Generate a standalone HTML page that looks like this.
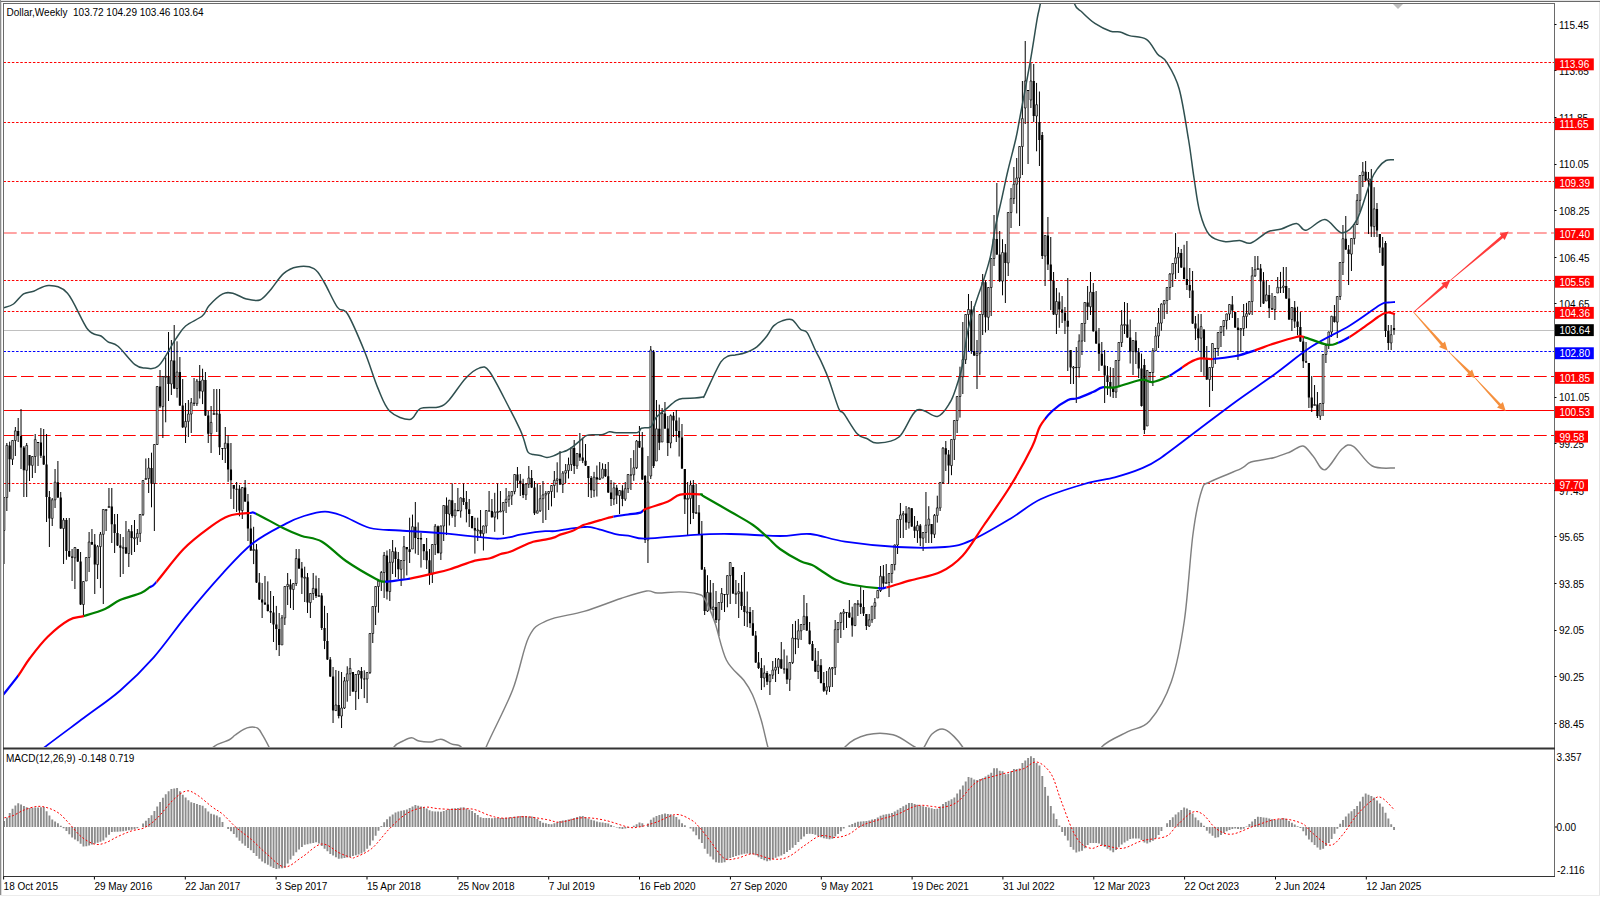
<!DOCTYPE html><html><head><meta charset="utf-8"><style>html,body{margin:0;padding:0;background:#fff;}body{width:1600px;height:897px;overflow:hidden;position:relative;font-family:"Liberation Sans",sans-serif;}svg{position:absolute;left:0;top:0;}text{font-family:"Liberation Sans",sans-serif;font-size:10px;}</style></head><body>
<svg width="1600" height="897" viewBox="0 0 1600 897">
<defs><clipPath id="cm"><rect x="4" y="4" width="1550" height="743"/></clipPath><clipPath id="cd"><rect x="4" y="750" width="1550" height="125"/></clipPath></defs>
<rect x="0" y="0" width="1600" height="897" fill="#fff"/>
<rect x="0" y="0" width="1600" height="1" fill="#e3e3e3"/>
<rect x="1" y="1" width="1599" height="1" fill="#6a6a6a"/>
<rect x="0" y="0" width="1" height="896" fill="#8c8c8c"/>
<rect x="1" y="2" width="1" height="894" fill="#dcdcdc"/>
<rect x="1599" y="2" width="1" height="894" fill="#e6e6e6"/>
<rect x="0" y="895" width="1600" height="1" fill="#ececec"/>
<rect x="3" y="3" width="1552" height="1" fill="#6a6a6a"/>
<rect x="3" y="3" width="1" height="874" fill="#6a6a6a"/>
<rect x="1554" y="3" width="1" height="874" fill="#6a6a6a"/>
<rect x="3" y="876" width="1552" height="1" fill="#333"/>
<rect x="3" y="747.5" width="1552" height="2" fill="#333"/>
<polygon points="1393,4 1403,4 1398,9" fill="#bdbdbd"/>
<line x1="3.45" y1="62.5" x2="1554" y2="62.5" stroke="#ff0000" stroke-width="1" stroke-dasharray="2.5,1.71" stroke-opacity="1" clip-path="url(#cm)"/>
<line x1="3.45" y1="122.5" x2="1554" y2="122.5" stroke="#ff0000" stroke-width="1" stroke-dasharray="2.5,1.71" stroke-opacity="1" clip-path="url(#cm)"/>
<line x1="3.45" y1="181.5" x2="1554" y2="181.5" stroke="#ff0000" stroke-width="1" stroke-dasharray="2.5,1.71" stroke-opacity="1" clip-path="url(#cm)"/>
<line x1="4" y1="233.0" x2="1554" y2="233.0" stroke="#ffa3a3" stroke-width="2" stroke-dasharray="12.7,4.3" stroke-opacity="1" clip-path="url(#cm)"/>
<line x1="3.45" y1="280.5" x2="1554" y2="280.5" stroke="#ff0000" stroke-width="1" stroke-dasharray="2.5,1.71" stroke-opacity="1" clip-path="url(#cm)"/>
<line x1="3.45" y1="311.5" x2="1554" y2="311.5" stroke="#ff0000" stroke-width="1" stroke-dasharray="2.5,1.71" stroke-opacity="1" clip-path="url(#cm)"/>
<line x1="4" y1="330.5" x2="1554" y2="330.5" stroke="#c0c0c0" stroke-width="1" stroke-opacity="1" clip-path="url(#cm)"/>
<line x1="3.45" y1="351.5" x2="1554" y2="351.5" stroke="#0000ff" stroke-width="1" stroke-dasharray="2.5,1.71" stroke-opacity="1" clip-path="url(#cm)"/>
<line x1="4" y1="376.5" x2="1554" y2="376.5" stroke="#ff0000" stroke-width="1" stroke-dasharray="12.7,4.3" stroke-opacity="1" clip-path="url(#cm)"/>
<line x1="4" y1="410.5" x2="1554" y2="410.5" stroke="#ff0000" stroke-width="1" stroke-opacity="1" clip-path="url(#cm)"/>
<line x1="4" y1="435.5" x2="1554" y2="435.5" stroke="#ff0000" stroke-width="1" stroke-dasharray="12.7,4.3" stroke-opacity="1" clip-path="url(#cm)"/>
<line x1="3.45" y1="483.5" x2="1554" y2="483.5" stroke="#ff0000" stroke-width="1" stroke-dasharray="2.5,1.71" stroke-opacity="1" clip-path="url(#cm)"/>
<g clip-path="url(#cm)">
<path d="M4.00 497.0V564.0M6.84 443.0V511.0M9.67 441.7V491.8M12.51 440.0V465.0M15.35 427.0V456.0M18.18 418.0V442.0M21.02 409.0V469.0M23.86 446.0V497.0M26.69 443.0V497.0M29.53 455.0V481.0M32.37 456.0V478.0M35.20 434.0V473.0M38.04 442.0V466.0M40.88 428.0V458.0M43.71 429.0V465.0M46.55 434.0V522.0M49.39 491.0V547.0M52.22 498.0V526.0M55.06 469.0V508.0M57.90 461.0V498.0M60.73 492.0V529.0M63.57 518.0V564.0M66.41 518.0V559.8M69.24 518.0V557.0M72.08 549.0V581.0M74.92 547.0V589.0M77.76 549.0V562.0M80.59 552.0V605.0M83.43 581.0V616.0M86.27 557.0V581.0M89.10 532.0V572.0M91.94 529.0V545.0M94.78 534.0V594.0M97.61 545.0V579.0M100.45 532.0V588.1M103.29 509.0V604.0M106.12 509.0V531.0M108.96 488.0V507.0M111.80 488.0V543.0M114.63 514.0V553.0M117.47 514.0V546.0M120.31 534.0V577.0M123.14 537.0V574.0M125.98 521.0V554.0M128.82 529.0V567.0M131.65 525.0V555.0M134.49 520.0V552.0M137.33 529.0V545.0M140.16 514.0V542.0M143.00 480.0V516.0M145.84 458.5V479.0M148.67 458.0V493.0M151.51 452.7V507.3M154.35 444.0V531.0M157.18 386.0V445.0M160.02 370.0V408.0M162.86 376.0V438.0M165.69 357.4V422.3M168.53 332.0V401.0M171.37 340.0V395.0M174.20 325.0V389.0M177.04 341.3V397.7M179.88 357.0V406.0M182.71 379.0V428.0M185.55 403.0V443.0M188.39 400.0V437.0M191.22 398.0V433.0M194.06 378.0V406.0M196.90 379.0V406.0M199.73 365.0V398.5M202.57 368.7V404.1M205.41 372.0V416.0M208.24 411.0V443.0M211.08 406.0V453.0M213.92 389.0V414.0M216.76 389.0V432.0M219.59 389.0V455.0M222.43 448.0V460.0M225.27 427.0V463.0M228.10 435.4V481.9M230.94 443.0V499.0M233.78 485.0V509.0M236.61 482.0V512.0M239.45 485.1V516.3M242.29 487.0V519.0M245.12 480.0V502.0M247.96 494.0V541.0M250.80 515.0V551.0M253.63 526.8V564.1M256.47 544.0V583.0M259.31 573.0V600.0M262.14 583.0V618.0M264.98 576.0V605.0M267.82 581.4V611.5M270.65 591.0V623.0M273.49 596.0V642.0M276.33 605.9V650.1M279.16 613.0V656.0M282.00 615.0V645.0M284.84 586.0V625.0M287.67 573.0V605.0M290.51 579.3V608.1M293.35 583.0V610.0M296.18 549.0V586.0M299.02 549.0V569.0M301.86 562.0V594.0M304.69 566.7V602.0M307.53 573.0V613.0M310.37 593.0V618.0M313.20 573.0V600.0M316.04 575.6V598.0M318.88 578.0V596.0M321.71 593.0V630.0M324.55 605.8V649.1M327.39 613.0V660.0M330.22 657.0V677.0M333.06 667.0V723.0M335.90 670.0V711.0M338.73 670.9V718.4M341.57 672.0V728.0M344.41 677.0V709.0M347.24 666.3V701.7M350.08 658.0V696.0M352.92 672.0V692.0M355.76 674.0V710.0M358.59 670.4V699.1M361.43 667.0V689.0M364.27 670.3V698.1M367.10 672.0V703.0M369.94 633.0V674.0M372.78 606.0V643.0M375.61 586.0V625.0M378.45 580.6V612.7M381.29 571.0V591.0M384.12 552.0V598.0M386.96 550.5V599.5M389.80 549.0V601.0M392.63 540.0V574.0M395.47 547.4V577.1M398.31 552.0V579.0M401.14 560.0V586.0M403.98 536.0V578.6M406.82 547.0V575.4M409.65 517.7V563.0M412.49 514.6V549.0M415.33 502.0V553.6M418.16 522.4V555.0M421.00 533.0V567.6M423.84 544.0V560.0M426.67 538.0V569.0M429.51 549.0V584.8M432.35 544.0V583.0M435.18 524.0V555.0M438.02 525.5V553.6M440.86 525.5V560.0M443.69 505.0V541.0M446.53 497.4V535.0M449.37 499.8V525.5M452.20 483.4V517.7M455.04 503.0V527.0M457.88 488.0V511.5M460.71 497.4V517.7M463.55 483.4V505.0M466.39 491.0V522.4M469.22 499.0V527.0M472.06 516.0V528.6M474.90 517.7V553.6M477.73 517.7V541.0M480.57 510.0V538.0M483.41 525.5V550.5M486.24 510.0V533.3M489.08 491.0V511.5M491.92 499.0V517.7M494.76 492.8V531.8M497.59 483.4V519.3M500.43 491.0V511.5M503.27 502.0V535.0M506.10 488.0V513.0M508.94 491.0V506.8M511.78 491.0V505.0M514.61 474.0V494.3M517.45 467.0V488.0M520.29 474.0V496.0M523.12 478.8V498.1M525.96 483.0V500.0M528.80 466.0V488.0M531.63 470.0V488.0M534.47 481.0V515.0M537.31 483.3V513.3M540.14 485.0V512.0M542.98 481.0V523.0M545.82 491.0V520.0M548.65 491.0V510.0M551.49 485.0V506.4M554.33 471.0V498.0M557.16 462.3V492.4M560.00 451.0V485.0M562.84 471.0V493.0M565.67 464.0V483.0M568.51 457.6V478.5M571.35 447.0V471.0M574.18 440.0V474.0M577.02 453.0V469.0M579.86 433.0V461.0M582.69 437.7V463.1M585.53 444.0V466.0M588.37 466.0V497.0M591.20 476.0V498.0M594.04 471.9V497.2M596.88 465.5V496.5M599.71 462.0V480.0M602.55 463.3V478.1M605.39 464.0V477.0M608.22 462.0V493.0M611.06 480.0V506.0M613.90 482.4V505.1M616.73 485.0V504.0M619.57 490.0V514.0M622.41 485.2V506.2M625.24 482.0V501.0M628.08 474.0V493.0M630.92 458.0V490.0M633.76 450.1V480.8M636.59 440.0V469.0M639.43 426.0V448.0M642.27 432.0V480.0M645.10 475.0V543.0M647.94 456.0V563.0M650.78 346.0V479.0M653.61 350.0V468.0M656.45 400.0V461.0M659.29 404.6V450.1M662.12 408.0V442.0M664.96 402.0V429.0M667.80 416.0V456.0M670.63 414.4V448.2M673.47 412.0V437.0M676.31 410.0V442.0M679.14 417.5V456.5M681.98 424.0V469.0M684.82 469.0V514.0M687.65 482.0V536.0M690.49 480.6V524.1M693.33 480.0V519.0M696.16 484.0V513.0M699.00 505.0V535.0M701.84 521.0V570.0M704.67 567.0V615.0M707.51 575.2V611.9M710.35 580.0V610.0M713.18 583.0V618.0M716.02 591.0V623.0M718.86 602.0V636.0M721.69 588.0V610.0M724.53 594.0V612.0M727.37 575.1V607.3M730.20 562.0V604.0M733.04 567.0V594.0M735.88 580.0V604.0M738.71 583.0V618.0M741.55 575.0V610.0M744.39 572.0V626.0M747.22 591.5V627.1M750.06 607.0V628.0M752.90 610.0V636.0M755.73 631.0V663.0M758.57 652.0V669.0M761.41 658.0V690.0M764.24 665.3V687.2M767.08 671.0V685.0M769.92 674.0V695.0M772.76 661.0V679.0M775.59 658.0V682.0M778.43 658.0V674.0M781.27 642.0V669.0M784.10 649.4V673.7M786.94 655.5V684.0M789.78 662.0V691.0M792.61 624.0V664.0M795.45 620.9V654.2M798.29 619.0V648.0M801.12 624.0V640.0M803.96 595.0V630.0M806.80 603.0V631.0M809.63 622.0V644.5M812.47 641.0V661.0M815.31 648.0V672.0M818.14 651.0V679.0M820.98 659.0V683.5M823.82 672.0V692.0M826.65 671.0V694.7M829.49 667.0V692.0M832.33 667.0V687.0M835.16 620.0V675.0M838.00 622.0V643.0M840.84 612.0V638.0M843.67 609.0V630.0M846.51 612.0V628.0M849.35 600.0V618.0M852.18 606.7V636.7M855.02 603.3V626.2M857.86 600.0V616.0M860.69 587.0V614.0M863.53 590.0V616.0M866.37 614.0V630.0M869.20 614.0V627.0M872.04 605.8V622.9M874.88 598.0V619.0M877.71 590.0V598.0M880.55 566.0V592.0M883.39 565.0V588.0M886.22 564.0V583.0M889.06 573.0V597.0M891.90 564.0V583.0M894.73 544.5V570.4M897.57 519.0V554.0M900.41 503.0V538.0M903.24 511.0V538.0M906.08 506.0V530.0M908.92 507.0V528.6M911.76 508.0V527.0M914.59 516.0V538.0M917.43 520.9V542.9M920.27 524.0V546.0M923.10 532.0V551.0M925.94 492.0V543.0M928.78 506.2V543.0M931.61 524.0V543.0M934.45 514.0V538.0M937.29 495.7V522.6M940.12 482.0V511.0M942.96 447.0V484.0M945.80 441.0V471.0M948.63 450.0V484.0M951.47 439.0V475.2M954.31 420.0V460.0M957.14 396.0V433.0M959.98 366.7V417.6M962.82 322.0V394.0M965.65 314.0V364.0M968.49 294.0V351.0M971.33 301.0V353.9M974.16 306.0V356.0M977.00 340.0V389.0M979.84 314.0V375.0M982.67 274.0V335.0M985.51 280.5V332.5M988.35 287.0V330.0M991.18 258.0V316.0M994.02 215.0V266.0M996.86 183.0V255.0M999.69 231.0V282.0M1002.53 239.2V295.3M1005.37 244.0V303.0M1008.20 212.0V276.0M1011.04 188.0V228.0M1013.88 167.0V204.0M1016.71 158.0V213.4M1019.55 146.0V226.0M1022.39 81.0V175.0M1025.22 41.0V124.0M1028.06 90.0V164.0M1030.90 63.0V108.0M1033.73 64.0V122.0M1036.57 82.9V151.3M1039.41 91.5V166.0M1042.24 132.0V259.0M1045.08 235.0V286.0M1047.92 217.0V270.0M1050.76 237.0V310.0M1053.59 272.0V315.0M1056.43 288.0V334.0M1059.27 292.5V327.8M1062.10 296.0V323.0M1064.94 307.0V334.0M1067.78 278.0V371.0M1070.61 350.0V384.0M1073.45 366.0V384.0M1076.29 347.0V403.0M1079.12 334.3V377.5M1081.96 323.0V355.0M1084.80 302.0V342.0M1087.63 286.0V320.0M1090.47 272.0V315.0M1093.31 283.0V331.7M1096.14 291.0V344.0M1098.98 328.0V371.0M1101.82 342.0V366.0M1104.65 350.0V403.0M1107.49 366.0V395.0M1110.33 367.2V396.7M1113.16 368.0V398.0M1116.00 360.0V398.0M1118.84 342.0V387.0M1121.67 310.0V347.0M1124.51 302.0V334.0M1127.35 303.0V338.0M1130.18 319.5V363.5M1133.02 340.0V375.0M1135.86 332.0V364.0M1138.69 348.0V378.0M1141.53 353.6V406.6M1144.37 359.0V434.0M1147.20 370.0V426.0M1150.04 372.0V383.0M1152.88 348.0V386.0M1155.71 327.0V351.0M1158.55 308.0V348.0M1161.39 303.2V330.7M1164.22 300.0V319.0M1167.06 287.0V314.0M1169.90 273.0V300.0M1172.73 263.0V287.0M1175.57 233.0V279.0M1178.41 247.0V273.0M1181.24 249.0V268.0M1184.08 244.8V279.4M1186.92 241.0V290.0M1189.76 268.0V298.0M1192.59 271.0V324.0M1195.43 316.0V340.0M1198.27 314.0V351.0M1201.10 314.0V372.0M1203.94 329.5V375.9M1206.78 346.0V380.0M1209.61 367.0V407.0M1212.45 343.0V391.0M1215.29 348.0V364.0M1218.12 332.0V356.0M1220.96 326.0V347.0M1223.80 320.0V336.0M1226.63 313.5V329.5M1229.47 304.0V320.0M1232.31 296.0V318.0M1235.14 312.0V328.0M1237.98 318.0V360.0M1240.82 328.0V352.0M1243.65 304.0V336.0M1246.49 302.9V328.2M1249.33 301.0V315.0M1252.16 267.0V315.0M1255.00 256.0V277.0M1257.84 256.0V269.0M1260.67 264.0V307.0M1263.51 272.1V304.0M1266.35 280.0V301.0M1269.18 285.0V318.0M1272.02 293.0V310.0M1274.86 296.0V320.0M1277.69 277.0V293.0M1280.53 271.9V293.0M1283.37 267.0V293.0M1286.20 267.0V299.0M1289.04 288.0V320.0M1291.88 307.0V331.0M1294.71 301.0V328.0M1297.55 306.7V335.2M1300.39 312.0V342.0M1303.22 336.0V368.0M1306.06 342.0V363.0M1308.90 363.0V408.0M1311.73 376.0V412.0M1314.57 385.0V405.0M1317.41 392.0V418.0M1320.24 403.0V420.0M1323.08 354.0V416.0M1325.92 345.0V363.0M1328.76 331.5V349.0M1331.59 315.8V337.0M1334.43 305.0V322.6M1337.27 296.0V338.0M1340.10 262.0V300.0M1342.94 225.0V275.0M1345.78 216.0V250.0M1348.61 245.0V285.0M1351.45 238.0V271.0M1354.29 224.0V244.5M1357.12 194.0V225.0M1359.96 175.0V212.0M1362.80 162.0V187.0M1365.63 161.0V181.0M1368.47 172.0V234.0M1371.31 169.0V237.0M1374.14 187.2V237.0M1376.98 203.0V237.0M1379.82 234.0V253.0M1382.65 237.0V266.0M1385.49 241.0V337.0M1388.33 325.0V350.0M1391.16 325.0V350.0M1394.00 313.3V334.8" stroke="#000" stroke-width="1" fill="none"/>
<path d="M3.10 497.5h1.8V530.5h-1.8ZM5.94 445.4h1.8V497.5h-1.8ZM11.61 440.5h1.8V459.3h-1.8ZM14.45 430.9h1.8V440.5h-1.8ZM25.79 445.5h1.8V470.3h-1.8ZM31.47 456.5h1.8V465.4h-1.8ZM34.30 439.6h1.8V456.5h-1.8ZM51.32 499.8h1.8V518.4h-1.8ZM54.16 482.2h1.8V499.8h-1.8ZM62.67 520.1h1.8V528.5h-1.8ZM74.02 547.5h1.8V557.8h-1.8ZM82.53 581.5h1.8V604.5h-1.8ZM85.37 557.5h1.8V581.0h-1.8ZM88.20 542.0h1.8V557.5h-1.8ZM96.71 546.6h1.8V564.6h-1.8ZM99.55 534.3h1.8V546.6h-1.8ZM102.39 509.5h1.8V534.3h-1.8ZM105.22 509.5h1.8V510.5h-1.8ZM108.06 506.5h1.8V507.5h-1.8ZM122.24 547.3h1.8V548.3h-1.8ZM127.92 531.2h1.8V553.5h-1.8ZM133.59 537.7h1.8V538.7h-1.8ZM136.43 533.4h1.8V537.7h-1.8ZM139.26 514.5h1.8V533.4h-1.8ZM142.10 480.5h1.8V514.5h-1.8ZM144.94 478.5h1.8V479.5h-1.8ZM147.77 468.0h1.8V478.5h-1.8ZM153.45 444.5h1.8V483.5h-1.8ZM156.28 386.5h1.8V444.5h-1.8ZM161.96 376.5h1.8V406.6h-1.8ZM164.79 376.3h1.8V377.3h-1.8ZM170.47 360.6h1.8V383.9h-1.8ZM176.14 372.1h1.8V388.5h-1.8ZM184.65 421.4h1.8V427.2h-1.8ZM187.49 414.0h1.8V421.4h-1.8ZM190.32 402.7h1.8V414.0h-1.8ZM196.00 381.1h1.8V403.7h-1.8ZM201.67 380.0h1.8V391.3h-1.8ZM210.18 422.4h1.8V433.7h-1.8ZM213.02 413.5h1.8V414.5h-1.8ZM224.37 443.2h1.8V448.5h-1.8ZM241.39 487.5h1.8V510.5h-1.8ZM252.73 549.4h1.8V550.5h-1.8ZM281.10 617.9h1.8V644.9h-1.8ZM283.94 586.5h1.8V617.9h-1.8ZM286.77 584.4h1.8V586.5h-1.8ZM292.45 583.5h1.8V589.5h-1.8ZM295.28 558.5h1.8V583.5h-1.8ZM303.79 577.2h1.8V578.2h-1.8ZM309.47 593.5h1.8V602.6h-1.8ZM312.30 588.4h1.8V593.5h-1.8ZM317.98 595.5h1.8V596.5h-1.8ZM335.00 705.0h1.8V710.6h-1.8ZM340.67 708.0h1.8V716.0h-1.8ZM343.51 680.9h1.8V708.0h-1.8ZM346.34 673.8h1.8V680.9h-1.8ZM349.18 668.4h1.8V673.8h-1.8ZM354.86 674.5h1.8V691.5h-1.8ZM357.69 670.9h1.8V674.5h-1.8ZM366.20 672.5h1.8V679.0h-1.8ZM369.04 633.5h1.8V672.5h-1.8ZM371.88 606.5h1.8V633.5h-1.8ZM374.71 586.5h1.8V606.5h-1.8ZM377.55 581.1h1.8V586.5h-1.8ZM380.39 572.5h1.8V581.1h-1.8ZM383.22 555.4h1.8V572.5h-1.8ZM388.90 562.3h1.8V591.5h-1.8ZM391.73 551.5h1.8V562.3h-1.8ZM400.24 560.5h1.8V569.3h-1.8ZM403.08 546.7h1.8V560.5h-1.8ZM411.59 526.7h1.8V549.0h-1.8ZM431.45 544.5h1.8V574.1h-1.8ZM434.28 526.2h1.8V544.5h-1.8ZM439.96 526.0h1.8V553.1h-1.8ZM442.79 505.5h1.8V526.0h-1.8ZM448.47 500.3h1.8V514.1h-1.8ZM454.14 510.1h1.8V515.9h-1.8ZM459.81 497.9h1.8V511.0h-1.8ZM476.83 529.9h1.8V530.9h-1.8ZM482.51 526.0h1.8V533.7h-1.8ZM485.34 510.5h1.8V526.0h-1.8ZM493.86 512.1h1.8V517.2h-1.8ZM496.69 511.5h1.8V512.5h-1.8ZM499.53 511.0h1.8V512.0h-1.8ZM502.37 502.5h1.8V511.0h-1.8ZM505.20 499.3h1.8V502.5h-1.8ZM508.04 495.9h1.8V499.3h-1.8ZM510.88 491.5h1.8V495.9h-1.8ZM513.71 474.5h1.8V491.5h-1.8ZM525.06 484.0h1.8V494.9h-1.8ZM527.90 478.0h1.8V484.0h-1.8ZM536.41 510.8h1.8V513.2h-1.8ZM539.24 498.7h1.8V510.8h-1.8ZM542.08 494.9h1.8V498.7h-1.8ZM544.92 493.4h1.8V494.9h-1.8ZM547.75 491.5h1.8V493.4h-1.8ZM550.59 485.5h1.8V491.5h-1.8ZM553.43 480.4h1.8V485.5h-1.8ZM556.26 478.8h1.8V480.4h-1.8ZM561.94 473.1h1.8V484.5h-1.8ZM564.77 470.6h1.8V473.1h-1.8ZM567.61 464.6h1.8V470.6h-1.8ZM570.45 448.0h1.8V464.6h-1.8ZM576.12 453.5h1.8V465.9h-1.8ZM593.14 477.2h1.8V490.3h-1.8ZM598.81 478.3h1.8V479.4h-1.8ZM601.65 469.1h1.8V478.1h-1.8ZM613.00 487.8h1.8V499.0h-1.8ZM618.67 490.5h1.8V495.6h-1.8ZM624.34 488.7h1.8V499.1h-1.8ZM627.18 474.5h1.8V488.7h-1.8ZM632.86 467.8h1.8V474.8h-1.8ZM635.69 441.1h1.8V467.8h-1.8ZM647.04 482.0h1.8V540.0h-1.8ZM649.88 350.0h1.8V476.0h-1.8ZM655.55 428.8h1.8V461.0h-1.8ZM661.22 413.5h1.8V442.0h-1.8ZM669.73 415.7h1.8V443.0h-1.8ZM686.75 498.4h1.8V499.4h-1.8ZM689.59 485.0h1.8V498.4h-1.8ZM695.26 512.5h1.8V513.5h-1.8ZM706.61 592.4h1.8V611.0h-1.8ZM712.28 607.1h1.8V609.5h-1.8ZM717.96 602.5h1.8V619.9h-1.8ZM720.79 593.5h1.8V602.5h-1.8ZM726.47 575.6h1.8V594.5h-1.8ZM729.30 562.5h1.8V575.6h-1.8ZM734.98 593.4h1.8V594.4h-1.8ZM737.81 591.7h1.8V593.4h-1.8ZM746.32 611.9h1.8V612.9h-1.8ZM763.34 673.0h1.8V678.0h-1.8ZM769.02 675.1h1.8V681.7h-1.8ZM771.86 670.1h1.8V675.1h-1.8ZM774.69 667.3h1.8V670.1h-1.8ZM777.53 659.2h1.8V667.3h-1.8ZM788.88 662.5h1.8V679.4h-1.8ZM791.71 638.0h1.8V662.5h-1.8ZM797.39 630.8h1.8V639.3h-1.8ZM800.22 624.5h1.8V630.8h-1.8ZM803.06 616.3h1.8V624.5h-1.8ZM817.24 665.2h1.8V671.5h-1.8ZM825.75 686.8h1.8V690.8h-1.8ZM828.59 668.8h1.8V686.8h-1.8ZM831.43 667.5h1.8V668.8h-1.8ZM834.26 629.6h1.8V667.5h-1.8ZM837.10 622.5h1.8V629.6h-1.8ZM839.94 613.4h1.8V622.5h-1.8ZM842.77 611.9h1.8V613.4h-1.8ZM854.12 603.8h1.8V625.5h-1.8ZM856.96 603.6h1.8V604.6h-1.8ZM868.30 619.8h1.8V626.0h-1.8ZM871.14 606.3h1.8V619.8h-1.8ZM873.98 602.6h1.8V606.3h-1.8ZM876.81 590.5h1.8V598.0h-1.8ZM879.65 576.2h1.8V590.5h-1.8ZM885.32 582.5h1.8V583.5h-1.8ZM888.16 573.5h1.8V582.5h-1.8ZM891.00 564.5h1.8V573.5h-1.8ZM893.83 545.0h1.8V564.5h-1.8ZM896.67 519.5h1.8V545.0h-1.8ZM899.51 514.9h1.8V519.5h-1.8ZM902.34 513.6h1.8V514.9h-1.8ZM908.02 508.2h1.8V522.6h-1.8ZM916.53 525.5h1.8V530.7h-1.8ZM922.20 532.5h1.8V538.2h-1.8ZM925.04 525.2h1.8V532.5h-1.8ZM927.88 519.1h1.8V525.2h-1.8ZM933.55 515.4h1.8V534.3h-1.8ZM936.39 507.9h1.8V515.4h-1.8ZM939.22 482.5h1.8V507.9h-1.8ZM942.06 448.2h1.8V482.5h-1.8ZM950.57 439.5h1.8V465.6h-1.8ZM953.41 420.5h1.8V439.5h-1.8ZM956.24 396.5h1.8V420.5h-1.8ZM959.08 376.8h1.8V396.5h-1.8ZM961.92 359.7h1.8V376.8h-1.8ZM964.75 314.5h1.8V359.7h-1.8ZM967.59 309.5h1.8V314.5h-1.8ZM976.10 353.3h1.8V355.5h-1.8ZM978.94 314.5h1.8V353.3h-1.8ZM981.77 282.2h1.8V314.5h-1.8ZM987.45 287.5h1.8V317.3h-1.8ZM990.28 258.5h1.8V287.5h-1.8ZM993.12 239.1h1.8V258.5h-1.8ZM1001.63 252.5h1.8V281.1h-1.8ZM1007.30 212.5h1.8V262.9h-1.8ZM1010.14 198.6h1.8V212.5h-1.8ZM1012.98 184.2h1.8V198.6h-1.8ZM1015.81 178.0h1.8V184.2h-1.8ZM1018.65 146.5h1.8V178.0h-1.8ZM1021.49 118.6h1.8V146.5h-1.8ZM1024.32 81.0h1.8V108.0h-1.8ZM1030.00 81.0h1.8V100.0h-1.8ZM1035.67 104.7h1.8V116.0h-1.8ZM1044.18 235.5h1.8V256.0h-1.8ZM1055.53 301.5h1.8V314.5h-1.8ZM1072.55 367.1h1.8V368.1h-1.8ZM1078.22 341.0h1.8V367.6h-1.8ZM1081.06 323.5h1.8V341.0h-1.8ZM1083.90 302.5h1.8V323.5h-1.8ZM1089.57 292.1h1.8V306.8h-1.8ZM1115.10 360.5h1.8V392.0h-1.8ZM1117.94 342.5h1.8V360.5h-1.8ZM1120.77 324.9h1.8V342.5h-1.8ZM1123.61 324.4h1.8V325.4h-1.8ZM1132.12 340.5h1.8V351.5h-1.8ZM1146.30 370.5h1.8V426.0h-1.8ZM1151.98 350.7h1.8V372.5h-1.8ZM1154.81 336.0h1.8V350.7h-1.8ZM1157.65 323.1h1.8V336.0h-1.8ZM1160.49 304.1h1.8V323.1h-1.8ZM1163.32 300.5h1.8V304.1h-1.8ZM1166.16 287.5h1.8V300.5h-1.8ZM1169.00 274.0h1.8V287.5h-1.8ZM1171.83 263.5h1.8V274.0h-1.8ZM1174.67 257.8h1.8V263.5h-1.8ZM1177.51 253.0h1.8V257.8h-1.8ZM1200.20 326.6h1.8V338.2h-1.8ZM1208.71 367.5h1.8V379.5h-1.8ZM1211.55 343.5h1.8V367.5h-1.8ZM1217.22 332.5h1.8V348.5h-1.8ZM1220.06 326.5h1.8V332.5h-1.8ZM1222.90 320.5h1.8V326.5h-1.8ZM1225.73 314.0h1.8V320.5h-1.8ZM1228.57 304.5h1.8V314.0h-1.8ZM1239.92 328.5h1.8V329.9h-1.8ZM1242.75 316.4h1.8V328.5h-1.8ZM1245.59 313.7h1.8V316.4h-1.8ZM1248.43 301.5h1.8V313.7h-1.8ZM1251.26 275.8h1.8V301.5h-1.8ZM1254.10 269.7h1.8V275.8h-1.8ZM1256.94 268.5h1.8V269.5h-1.8ZM1265.45 294.9h1.8V301.0h-1.8ZM1273.96 296.5h1.8V309.5h-1.8ZM1276.79 287.3h1.8V293.0h-1.8ZM1282.47 286.0h1.8V287.4h-1.8ZM1290.98 307.5h1.8V319.5h-1.8ZM1313.67 404.5h1.8V405.5h-1.8ZM1319.34 403.5h1.8V416.0h-1.8ZM1322.18 354.5h1.8V403.5h-1.8ZM1325.02 345.5h1.8V354.5h-1.8ZM1327.86 332.0h1.8V345.5h-1.8ZM1330.69 316.3h1.8V332.0h-1.8ZM1336.37 296.5h1.8V322.1h-1.8ZM1339.20 262.5h1.8V296.5h-1.8ZM1342.04 238.7h1.8V262.5h-1.8ZM1350.55 238.5h1.8V254.1h-1.8ZM1353.39 224.5h1.8V238.5h-1.8ZM1356.22 200.4h1.8V224.5h-1.8ZM1359.06 175.5h1.8V200.4h-1.8ZM1361.90 171.8h1.8V175.5h-1.8ZM1367.57 178.8h1.8V180.5h-1.8ZM1373.24 208.9h1.8V226.6h-1.8ZM1390.26 334.7h1.8V342.9h-1.8Z" fill="#d8d8d8" stroke="#000" stroke-width="0.7"/>
<path d="M8.57 445.4h2.2V459.3h-2.2ZM17.08 430.9h2.2V436.1h-2.2ZM19.92 436.1h2.2V447.6h-2.2ZM22.76 447.6h2.2V470.3h-2.2ZM28.43 455.0h2.2V465.4h-2.2ZM36.94 442.0h2.2V443.0h-2.2ZM39.78 442.5h2.2V455.8h-2.2ZM42.61 455.8h2.2V464.5h-2.2ZM45.45 464.5h2.2V497.1h-2.2ZM48.29 497.1h2.2V518.4h-2.2ZM56.80 482.2h2.2V497.5h-2.2ZM59.63 497.5h2.2V528.5h-2.2ZM65.31 520.1h2.2V551.0h-2.2ZM68.14 551.0h2.2V556.5h-2.2ZM70.98 556.5h2.2V557.8h-2.2ZM76.66 549.0h2.2V561.5h-2.2ZM79.49 561.5h2.2V604.5h-2.2ZM90.84 542.0h2.2V544.5h-2.2ZM93.68 544.5h2.2V564.6h-2.2ZM110.70 506.5h2.2V524.3h-2.2ZM113.53 524.3h2.2V533.0h-2.2ZM116.37 533.0h2.2V545.5h-2.2ZM119.21 545.5h2.2V547.8h-2.2ZM124.88 547.3h2.2V553.5h-2.2ZM130.55 531.2h2.2V538.0h-2.2ZM150.41 468.0h2.2V483.5h-2.2ZM158.92 386.5h2.2V406.6h-2.2ZM167.43 376.3h2.2V383.9h-2.2ZM173.10 360.6h2.2V388.5h-2.2ZM178.78 372.1h2.2V405.5h-2.2ZM181.61 405.5h2.2V427.2h-2.2ZM192.96 402.7h2.2V403.7h-2.2ZM198.63 381.1h2.2V391.3h-2.2ZM204.31 380.0h2.2V415.5h-2.2ZM207.14 415.5h2.2V433.7h-2.2ZM215.66 413.5h2.2V414.5h-2.2ZM218.49 413.7h2.2V447.2h-2.2ZM221.33 448.0h2.2V449.0h-2.2ZM227.00 443.2h2.2V469.4h-2.2ZM229.84 469.4h2.2V480.3h-2.2ZM232.68 485.0h2.2V488.7h-2.2ZM235.51 488.7h2.2V489.7h-2.2ZM238.35 488.8h2.2V510.5h-2.2ZM244.02 487.5h2.2V501.5h-2.2ZM246.86 501.5h2.2V528.4h-2.2ZM249.70 528.4h2.2V550.5h-2.2ZM255.37 549.4h2.2V582.5h-2.2ZM258.21 582.5h2.2V599.5h-2.2ZM261.04 599.5h2.2V602.6h-2.2ZM263.88 602.6h2.2V604.5h-2.2ZM266.72 604.5h2.2V611.0h-2.2ZM269.55 611.0h2.2V612.6h-2.2ZM272.39 612.6h2.2V624.5h-2.2ZM275.23 624.5h2.2V628.9h-2.2ZM278.06 628.9h2.2V644.9h-2.2ZM289.41 584.4h2.2V589.5h-2.2ZM297.92 558.5h2.2V568.5h-2.2ZM300.76 568.5h2.2V577.5h-2.2ZM306.43 577.2h2.2V602.6h-2.2ZM314.94 588.4h2.2V596.1h-2.2ZM320.61 595.5h2.2V628.0h-2.2ZM323.45 628.0h2.2V641.1h-2.2ZM326.29 641.1h2.2V659.5h-2.2ZM329.12 659.5h2.2V676.5h-2.2ZM331.96 676.5h2.2V710.6h-2.2ZM337.63 705.0h2.2V716.0h-2.2ZM351.82 672.0h2.2V691.5h-2.2ZM360.33 670.9h2.2V678.4h-2.2ZM363.17 678.4h2.2V679.4h-2.2ZM385.86 555.4h2.2V591.5h-2.2ZM394.37 551.5h2.2V558.9h-2.2ZM397.21 558.9h2.2V569.3h-2.2ZM405.72 547.0h2.2V549.3h-2.2ZM408.55 549.3h2.2V551.9h-2.2ZM414.23 526.7h2.2V537.9h-2.2ZM417.06 537.9h2.2V538.9h-2.2ZM419.90 538.1h2.2V539.6h-2.2ZM422.74 544.0h2.2V551.2h-2.2ZM425.57 551.2h2.2V560.3h-2.2ZM428.41 560.3h2.2V574.1h-2.2ZM436.92 526.2h2.2V553.1h-2.2ZM445.43 505.5h2.2V514.1h-2.2ZM451.10 500.3h2.2V515.9h-2.2ZM456.78 510.1h2.2V511.1h-2.2ZM462.45 497.9h2.2V502.1h-2.2ZM465.29 502.1h2.2V509.2h-2.2ZM468.12 509.2h2.2V513.9h-2.2ZM470.96 516.0h2.2V528.1h-2.2ZM473.80 528.1h2.2V530.4h-2.2ZM479.47 529.9h2.2V533.7h-2.2ZM487.98 510.5h2.2V511.5h-2.2ZM490.82 511.0h2.2V517.2h-2.2ZM516.35 474.5h2.2V480.8h-2.2ZM519.19 480.8h2.2V483.7h-2.2ZM522.02 483.7h2.2V494.9h-2.2ZM530.53 478.0h2.2V487.5h-2.2ZM533.37 487.5h2.2V513.2h-2.2ZM558.90 478.8h2.2V484.5h-2.2ZM573.08 448.0h2.2V465.9h-2.2ZM578.76 453.5h2.2V457.5h-2.2ZM581.59 457.5h2.2V460.7h-2.2ZM584.43 460.7h2.2V465.5h-2.2ZM587.27 466.0h2.2V478.0h-2.2ZM590.10 478.0h2.2V490.3h-2.2ZM595.78 477.2h2.2V479.4h-2.2ZM604.29 469.1h2.2V476.3h-2.2ZM607.12 476.3h2.2V492.5h-2.2ZM609.96 492.5h2.2V499.0h-2.2ZM615.63 487.8h2.2V495.6h-2.2ZM621.31 490.5h2.2V499.1h-2.2ZM629.82 474.5h2.2V475.5h-2.2ZM638.33 441.1h2.2V447.5h-2.2ZM641.17 447.5h2.2V479.5h-2.2ZM644.00 476.0h2.2V540.0h-2.2ZM652.51 352.0h2.2V466.0h-2.2ZM658.19 428.8h2.2V442.8h-2.2ZM663.86 413.5h2.2V428.5h-2.2ZM666.70 428.5h2.2V443.0h-2.2ZM672.37 415.7h2.2V420.4h-2.2ZM675.21 420.4h2.2V431.0h-2.2ZM678.04 431.0h2.2V437.4h-2.2ZM680.88 437.4h2.2V468.5h-2.2ZM683.72 469.0h2.2V499.3h-2.2ZM692.23 485.0h2.2V512.9h-2.2ZM697.90 512.5h2.2V534.5h-2.2ZM700.74 534.5h2.2V569.5h-2.2ZM703.57 569.5h2.2V611.0h-2.2ZM709.25 592.4h2.2V609.5h-2.2ZM714.92 607.1h2.2V619.9h-2.2ZM723.43 594.0h2.2V595.0h-2.2ZM731.94 567.0h2.2V593.5h-2.2ZM740.45 591.7h2.2V606.1h-2.2ZM743.29 606.1h2.2V612.0h-2.2ZM748.96 611.9h2.2V623.3h-2.2ZM751.80 623.3h2.2V635.5h-2.2ZM754.63 635.5h2.2V662.5h-2.2ZM757.47 662.5h2.2V668.0h-2.2ZM760.31 668.0h2.2V678.0h-2.2ZM765.98 673.0h2.2V681.7h-2.2ZM780.17 659.2h2.2V668.5h-2.2ZM783.00 668.5h2.2V669.5h-2.2ZM785.84 668.5h2.2V679.4h-2.2ZM794.35 638.0h2.2V639.3h-2.2ZM805.70 616.3h2.2V630.5h-2.2ZM808.53 630.5h2.2V644.0h-2.2ZM811.37 644.0h2.2V660.5h-2.2ZM814.21 660.5h2.2V671.5h-2.2ZM819.88 665.2h2.2V683.0h-2.2ZM822.72 683.0h2.2V690.8h-2.2ZM845.41 612.0h2.2V613.0h-2.2ZM848.25 612.5h2.2V617.5h-2.2ZM851.08 617.5h2.2V625.5h-2.2ZM859.59 603.6h2.2V606.9h-2.2ZM862.43 606.9h2.2V613.6h-2.2ZM865.27 614.0h2.2V626.0h-2.2ZM882.29 576.2h2.2V583.6h-2.2ZM904.98 513.6h2.2V522.6h-2.2ZM910.66 508.2h2.2V526.5h-2.2ZM913.49 526.5h2.2V530.7h-2.2ZM919.17 525.5h2.2V538.2h-2.2ZM930.51 524.0h2.2V534.3h-2.2ZM944.70 448.2h2.2V454.6h-2.2ZM947.53 454.6h2.2V465.6h-2.2ZM970.23 309.5h2.2V351.0h-2.2ZM973.06 351.0h2.2V355.5h-2.2ZM984.41 282.2h2.2V317.3h-2.2ZM995.76 239.1h2.2V254.5h-2.2ZM998.59 254.5h2.2V281.1h-2.2ZM1004.27 252.5h2.2V262.9h-2.2ZM1026.96 90.0h2.2V91.0h-2.2ZM1032.63 81.0h2.2V116.0h-2.2ZM1038.31 122.0h2.2V140.0h-2.2ZM1041.14 135.0h2.2V256.0h-2.2ZM1046.82 235.5h2.2V264.5h-2.2ZM1049.66 264.5h2.2V280.7h-2.2ZM1052.49 280.7h2.2V314.5h-2.2ZM1058.17 301.5h2.2V309.5h-2.2ZM1061.00 309.5h2.2V312.7h-2.2ZM1063.84 312.7h2.2V320.8h-2.2ZM1066.68 320.8h2.2V326.7h-2.2ZM1069.51 350.0h2.2V367.4h-2.2ZM1075.19 367.1h2.2V368.1h-2.2ZM1086.53 302.5h2.2V306.8h-2.2ZM1092.21 292.1h2.2V331.2h-2.2ZM1095.04 331.2h2.2V343.5h-2.2ZM1097.88 343.5h2.2V353.8h-2.2ZM1100.72 353.8h2.2V365.5h-2.2ZM1103.55 365.5h2.2V375.4h-2.2ZM1106.39 375.4h2.2V382.1h-2.2ZM1109.23 382.1h2.2V388.0h-2.2ZM1112.06 388.0h2.2V392.0h-2.2ZM1126.25 324.4h2.2V337.5h-2.2ZM1129.08 337.5h2.2V351.5h-2.2ZM1134.76 340.5h2.2V352.3h-2.2ZM1137.59 352.3h2.2V368.5h-2.2ZM1140.43 368.5h2.2V406.1h-2.2ZM1143.27 365.0h2.2V430.0h-2.2ZM1148.94 372.0h2.2V373.0h-2.2ZM1180.14 253.0h2.2V267.5h-2.2ZM1182.98 267.5h2.2V278.9h-2.2ZM1185.82 278.9h2.2V285.1h-2.2ZM1188.66 285.1h2.2V290.6h-2.2ZM1191.49 290.6h2.2V323.5h-2.2ZM1194.33 323.5h2.2V328.4h-2.2ZM1197.17 328.4h2.2V338.2h-2.2ZM1202.84 329.5h2.2V358.1h-2.2ZM1205.68 358.1h2.2V379.5h-2.2ZM1214.19 348.0h2.2V349.0h-2.2ZM1231.21 304.5h2.2V310.5h-2.2ZM1234.04 312.0h2.2V327.5h-2.2ZM1236.88 327.5h2.2V329.9h-2.2ZM1259.57 268.5h2.2V281.3h-2.2ZM1262.41 281.3h2.2V303.5h-2.2ZM1268.08 294.9h2.2V308.2h-2.2ZM1270.92 308.2h2.2V309.5h-2.2ZM1279.43 287.3h2.2V288.3h-2.2ZM1285.10 286.0h2.2V298.5h-2.2ZM1287.94 298.5h2.2V319.5h-2.2ZM1293.61 307.5h2.2V321.5h-2.2ZM1296.45 321.5h2.2V327.1h-2.2ZM1299.29 327.1h2.2V341.5h-2.2ZM1302.12 341.5h2.2V361.3h-2.2ZM1304.96 361.3h2.2V362.5h-2.2ZM1307.80 363.0h2.2V397.4h-2.2ZM1310.63 397.4h2.2V407.7h-2.2ZM1316.31 404.5h2.2V416.0h-2.2ZM1333.33 316.3h2.2V322.1h-2.2ZM1344.68 238.7h2.2V249.5h-2.2ZM1347.51 249.5h2.2V254.1h-2.2ZM1364.53 171.8h2.2V180.5h-2.2ZM1370.21 178.8h2.2V226.6h-2.2ZM1375.88 208.9h2.2V230.5h-2.2ZM1378.72 234.0h2.2V247.5h-2.2ZM1381.55 247.5h2.2V265.5h-2.2ZM1384.39 243.0h2.2V331.0h-2.2ZM1387.23 331.0h2.2V342.9h-2.2ZM1392.90 328.1h2.2V330.1h-2.2Z" fill="#000"/>
<path d="M3.4,308.0 C5.1,307.3 10.1,306.4 13.5,304.0 C16.9,301.6 20.2,296.0 23.6,293.9 C27.0,291.8 29.5,292.6 33.7,291.2 C37.9,289.8 43.4,285.1 49.0,285.4 C54.6,285.7 61.0,285.9 67.5,293.2 C74.0,300.5 82.1,322.2 87.7,329.3 C93.3,336.4 97.6,333.9 101.0,336.0 C104.4,338.1 105.2,340.1 108.0,341.8 C110.8,343.5 113.5,342.4 118.0,346.2 C122.5,350.0 130.5,361.1 135.0,364.7 C139.5,368.3 141.1,367.8 145.0,368.0 C148.9,368.2 153.5,370.6 158.6,365.8 C163.7,361.0 171.0,346.0 175.5,339.4 C180.0,332.8 181.1,329.9 185.6,326.0 C190.1,322.1 198.6,319.2 202.5,315.8 C206.4,312.4 205.6,309.4 209.0,305.7 C212.4,302.0 218.7,296.0 222.7,293.9 C226.7,291.8 228.9,292.3 232.9,293.2 C236.9,294.1 241.9,297.9 246.4,299.0 C250.9,300.1 256.0,301.4 259.9,300.0 C263.8,298.6 266.1,294.9 270.0,290.5 C273.9,286.1 279.0,277.5 283.5,273.6 C288.0,269.7 291.9,267.7 297.0,266.9 C302.1,266.1 309.4,266.1 313.9,268.6 C318.4,271.1 320.1,275.5 324.0,282.0 C327.9,288.5 333.6,302.1 337.5,307.4 C341.4,312.7 343.1,306.7 347.6,314.0 C352.1,321.3 359.4,338.8 364.5,351.2 C369.6,363.6 373.8,378.4 378.0,388.4 C382.2,398.4 384.5,406.1 389.8,411.3 C395.1,416.5 404.9,419.8 410.0,419.4 C415.1,418.9 415.4,410.7 420.2,408.6 C425.0,406.5 433.9,408.4 438.7,407.0 C443.5,405.6 444.4,405.0 448.9,400.2 C453.4,395.4 460.6,383.5 465.7,378.2 C470.8,372.9 475.2,369.2 479.2,368.1 C483.1,367.0 484.3,364.8 489.4,371.5 C494.5,378.2 504.5,399.0 509.6,408.6 C514.7,418.2 517.6,424.2 520.0,429.4 C522.4,434.6 522.7,436.2 524.0,440.0 C525.3,443.8 526.4,449.7 528.0,452.1 C529.6,454.5 531.4,453.9 533.4,454.5 C535.4,455.1 537.9,455.0 540.1,455.5 C542.3,456.0 544.6,457.4 546.8,457.5 C549.0,457.6 551.2,456.7 553.4,455.9 C555.6,455.1 557.9,453.7 560.1,452.8 C562.3,451.9 564.6,451.6 566.8,450.5 C569.0,449.4 571.0,448.0 573.5,446.1 C576.0,444.2 579.3,441.2 581.5,439.4 C583.7,437.6 584.7,436.2 586.9,435.4 C589.1,434.6 592.2,434.9 594.9,434.7 C597.6,434.5 600.4,434.9 602.9,434.4 C605.4,433.9 607.4,432.1 609.6,431.8 C611.8,431.5 611.7,432.6 616.3,432.7 C620.9,432.8 633.2,433.1 637.4,432.4 C641.6,431.6 639.2,429.1 641.4,428.2 C643.6,427.3 648.3,428.6 650.8,426.8 C653.2,425.0 653.6,420.4 656.1,417.5 C658.6,414.6 662.1,412.2 665.5,409.4 C668.9,406.6 673.3,402.5 676.2,400.7 C679.1,398.9 679.8,398.9 682.9,398.5 C686.0,398.1 691.6,398.3 694.9,398.1 C698.2,397.9 701.3,397.4 702.9,397.1 C704.5,396.8 703.0,398.4 704.2,396.2 C705.4,393.9 707.2,389.3 710.0,383.6 C712.8,377.9 717.8,366.5 720.9,361.9 C724.0,357.3 726.0,357.2 728.4,356.0 C730.8,354.8 732.3,355.4 735.1,354.9 C737.9,354.3 741.6,354.0 745.2,352.7 C748.8,351.4 753.3,349.6 756.9,346.8 C760.5,344.0 764.1,339.5 766.9,336.0 C769.7,332.5 771.1,328.4 773.6,325.9 C776.1,323.4 778.9,321.9 782.0,320.9 C785.1,319.9 788.9,318.3 792.0,319.7 C795.1,321.1 797.9,327.1 800.4,329.3 C802.9,331.5 804.6,329.1 807.1,332.6 C809.6,336.1 812.9,345.0 815.4,350.2 C817.9,355.4 819.9,358.7 822.1,363.6 C824.3,368.5 826.0,372.0 828.8,379.5 C831.6,387.0 836.3,403.0 838.8,408.7 C841.3,414.4 840.8,409.6 843.9,413.8 C847.0,418.0 853.3,429.6 857.2,433.8 C861.1,438.0 863.9,437.3 867.3,438.8 C870.6,440.3 872.0,443.3 877.3,443.0 C882.6,442.7 892.4,442.5 899.0,437.0 C905.6,431.5 910.6,413.4 917.0,410.0 C923.4,406.6 931.9,417.6 937.4,416.4 C942.9,415.1 946.9,407.4 950.0,402.5 C953.1,397.6 954.2,393.2 956.3,387.0 C958.4,380.8 960.7,373.9 962.5,365.0 C964.3,356.1 965.6,342.1 967.2,333.8 C968.8,325.5 970.1,321.3 971.9,315.0 C973.7,308.7 975.9,302.2 978.0,296.0 C980.1,289.8 982.3,284.2 984.4,277.5 C986.5,270.8 988.8,263.9 990.6,255.6 C992.4,247.3 993.5,236.9 995.3,227.5 C997.1,218.1 999.5,208.8 1001.6,199.4 C1003.7,190.0 1005.4,181.2 1007.8,171.0 C1010.2,160.8 1014.0,147.0 1016.0,138.0 C1018.0,129.0 1017.6,129.6 1020.0,117.0 C1022.4,104.4 1027.2,78.8 1030.1,62.4 C1033.0,46.0 1035.5,28.4 1037.2,18.7 C1038.9,8.9 1039.0,11.2 1040.3,3.9 C1041.6,-3.4 1040.0,-20.2 1045.0,-25.0 C1050.0,-29.8 1065.1,-29.8 1070.0,-25.0 C1074.9,-20.2 1072.5,-2.4 1074.6,3.9 C1076.7,10.2 1079.0,9.2 1082.4,12.5 C1085.8,15.8 1090.2,20.3 1094.9,23.4 C1099.6,26.5 1106.3,29.8 1110.5,31.2 C1114.7,32.6 1116.9,31.3 1120.0,32.0 C1123.1,32.7 1124.9,34.4 1129.3,35.6 C1133.7,36.8 1141.7,36.2 1146.4,39.3 C1151.1,42.3 1154.0,50.0 1157.4,53.9 C1160.8,57.8 1163.1,56.5 1166.7,62.4 C1170.3,68.2 1175.6,76.1 1179.2,89.0 C1182.8,101.9 1186.1,125.2 1188.6,140.0 C1191.1,154.8 1192.1,166.0 1194.0,178.0 C1195.9,190.0 1197.2,202.5 1199.8,212.0 C1202.3,221.5 1205.2,229.9 1209.3,234.8 C1213.4,239.7 1219.4,240.7 1224.4,241.6 C1229.5,242.5 1235.2,240.3 1239.6,240.5 C1244.0,240.7 1246.3,244.5 1251.0,243.0 C1255.7,241.5 1263.0,234.0 1268.0,231.7 C1273.0,229.4 1276.5,230.4 1281.3,229.0 C1286.0,227.6 1292.4,223.2 1296.5,223.4 C1300.6,223.6 1301.2,230.8 1306.0,230.2 C1310.8,229.6 1319.0,219.1 1325.0,219.6 C1331.0,220.1 1336.7,232.9 1342.0,232.9 C1347.3,232.9 1352.3,228.1 1357.0,219.6 C1361.7,211.1 1366.9,190.3 1370.4,181.7 C1373.9,173.1 1375.4,171.5 1378.0,168.0 C1380.6,164.5 1383.3,161.9 1386.0,160.5 C1388.7,159.1 1392.7,159.9 1394.0,159.8" fill="none" stroke="#2f4f4f" stroke-width="1.5" stroke-linejoin="round"/>
<path d="M195.0,770.0 C198.0,766.2 207.3,752.4 213.0,747.4 C218.7,742.4 225.2,742.1 228.9,740.0 C232.6,737.9 232.7,736.8 235.2,735.0 C237.7,733.2 241.2,730.6 243.7,729.3 C246.2,728.0 247.7,727.4 250.0,727.2 C252.3,727.0 255.5,726.8 257.6,728.2 C259.8,729.6 261.0,732.5 262.9,735.7 C264.8,738.9 266.3,741.7 269.2,747.4 C272.1,753.1 261.5,766.2 280.0,770.0 C298.5,773.8 361.1,773.8 380.0,770.0 C398.9,766.2 389.8,752.2 393.6,747.4 C397.4,742.6 400.0,742.6 403.0,741.0 C406.0,739.4 408.9,737.8 411.6,737.8 C414.3,737.8 415.8,740.3 419.0,741.0 C422.2,741.7 427.7,742.2 430.7,742.0 C433.7,741.8 435.1,740.4 437.0,740.0 C438.9,739.6 439.9,738.8 442.4,739.5 C444.9,740.2 448.8,742.9 452.0,744.2 C455.2,745.5 458.5,743.1 461.5,747.4 C464.5,751.7 466.9,766.2 470.0,770.0 C473.1,773.8 477.3,773.8 480.0,770.0 C482.7,766.2 480.6,760.7 486.0,747.4 C491.4,734.1 505.5,708.4 512.6,690.0 C519.7,671.6 523.1,648.6 528.8,637.0 C534.5,625.4 537.8,624.9 547.0,620.6 C556.2,616.3 571.7,615.1 584.0,611.4 C596.3,607.7 610.4,601.9 620.8,598.5 C631.2,595.1 640.4,591.9 646.5,591.0 C652.6,590.1 652.0,592.9 657.6,593.0 C663.2,593.1 673.4,591.7 680.0,591.9 C686.6,592.1 693.3,592.8 697.4,594.0 C701.5,595.2 701.7,594.3 704.6,599.0 C707.5,603.7 711.2,612.1 714.8,622.3 C718.4,632.5 721.6,650.3 726.4,660.0 C731.2,669.7 739.4,674.5 743.8,680.3 C748.1,686.1 749.6,688.2 752.5,694.8 C755.4,701.4 758.6,711.2 761.2,720.0 C763.8,728.8 765.7,739.2 768.0,747.5 C770.3,755.8 763.8,766.2 775.0,770.0 C786.2,773.8 823.3,773.8 835.0,770.0 C846.7,766.2 839.7,752.9 845.0,747.0 C850.3,741.1 859.0,736.8 867.0,734.8 C875.0,732.8 885.0,732.8 893.0,734.8 C901.0,736.8 910.0,744.5 914.8,747.0 C919.6,749.5 919.1,752.2 922.0,750.0 C924.9,747.8 928.2,737.4 932.0,734.0 C935.8,730.6 939.9,727.4 945.0,729.6 C950.1,731.8 958.4,740.3 962.6,747.0 C966.8,753.7 947.9,766.2 970.0,770.0 C992.1,773.8 1073.0,773.8 1095.0,770.0 C1117.0,766.2 1096.2,753.4 1101.7,747.0 C1107.2,740.6 1119.8,736.0 1127.8,731.7 C1135.8,727.4 1142.3,729.3 1149.6,721.0 C1156.8,712.7 1165.5,698.4 1171.3,681.7 C1177.1,665.0 1180.7,645.6 1184.3,621.0 C1187.9,596.4 1190.1,555.8 1193.0,534.0 C1195.9,512.2 1198.8,499.1 1201.7,490.4 C1204.6,481.7 1203.9,485.3 1210.4,481.7 C1217.0,478.1 1234.2,472.0 1241.0,468.7 C1247.8,465.4 1245.5,463.8 1251.0,462.0 C1256.5,460.2 1267.2,459.4 1273.7,457.7 C1280.2,456.0 1285.1,453.9 1290.0,452.0 C1294.9,450.1 1299.2,445.3 1303.0,446.0 C1306.8,446.7 1309.3,452.0 1313.0,456.0 C1316.7,460.0 1320.2,471.0 1325.0,469.8 C1329.8,468.6 1337.3,452.9 1342.0,449.0 C1346.7,445.1 1348.2,443.5 1353.3,446.3 C1358.3,449.1 1365.3,462.4 1372.3,466.0 C1379.2,469.6 1391.2,467.7 1395.0,468.0" fill="none" stroke="#808080" stroke-width="1.45" stroke-linejoin="round"/>
<path d="M30.0,760.0 C32.3,758.0 34.6,755.0 43.6,748.0 C52.6,741.0 71.3,727.3 84.0,717.8 C96.7,708.2 108.4,700.7 120.0,690.7 C131.6,680.7 142.4,670.2 153.5,657.6 C164.6,645.0 175.1,629.5 186.6,615.4 C198.1,601.3 211.7,585.3 222.7,573.3 C233.7,561.3 242.2,551.5 252.8,543.2 C263.4,534.9 277.5,528.1 286.0,523.6 C294.5,519.1 297.5,518.0 304.0,516.0 C310.5,514.0 318.5,511.6 325.0,511.6 C331.5,511.6 335.5,513.3 343.0,516.0 C350.5,518.7 360.5,525.6 370.0,528.0 C379.5,530.4 387.7,529.6 400.0,530.5 C412.3,531.4 429.0,532.0 444.0,533.3 C459.0,534.6 480.7,537.2 490.0,538.1 C499.3,539.0 496.6,538.8 500.0,538.6 C503.4,538.4 506.8,537.8 510.1,537.1 C513.5,536.4 515.9,535.4 520.1,534.6 C524.3,533.8 530.9,532.7 535.1,532.1 C539.3,531.5 541.9,531.3 545.2,531.1 C548.6,530.9 551.0,531.5 555.2,531.1 C559.4,530.7 565.5,529.3 570.2,528.6 C574.9,527.9 579.9,527.4 583.3,527.1 C586.6,526.9 587.5,526.7 590.3,527.1 C593.1,527.5 596.1,528.4 600.3,529.6 C604.5,530.8 610.4,533.0 615.4,534.1 C620.4,535.2 625.4,535.4 630.4,536.1 C635.4,536.9 634.8,538.8 645.5,538.6 C656.2,538.4 680.1,535.6 694.4,534.8 C708.6,534.0 716.7,533.8 731.0,534.0 C745.3,534.2 766.8,536.0 780.0,536.0 C793.2,536.0 799.6,533.0 810.4,534.0 C821.2,535.0 830.5,539.5 845.0,541.7 C859.5,543.9 880.7,546.1 897.4,547.0 C914.1,547.9 932.7,548.1 945.0,547.0 C957.3,545.9 960.4,545.1 971.3,540.4 C982.2,535.7 998.8,525.6 1010.4,518.7 C1022.0,511.8 1028.7,504.8 1041.0,499.0 C1053.3,493.2 1072.0,487.6 1084.3,484.0 C1096.6,480.4 1105.3,479.9 1114.8,477.4 C1124.2,474.8 1133.5,471.9 1141.0,468.7 C1148.5,465.5 1150.5,464.8 1160.0,458.4 C1169.5,451.9 1185.3,439.5 1198.0,430.0 C1210.7,420.5 1223.4,410.7 1236.0,401.5 C1248.6,392.3 1261.1,384.1 1273.7,375.0 C1286.3,365.9 1299.0,354.8 1311.6,346.6 C1324.2,338.4 1338.1,332.6 1349.5,325.7 C1360.9,318.8 1373.5,308.9 1379.9,305.0 C1386.3,301.1 1385.5,303.0 1388.0,302.5 C1390.5,302.0 1393.8,302.1 1395.0,302.0" fill="none" stroke="#0000ff" stroke-width="1.8" stroke-linejoin="round"/>
<defs><path id="cma" d="M3.0,695.0 C5.5,691.8 13.5,682.2 18.0,676.0 C22.5,669.8 25.0,664.6 30.0,658.0 C35.0,651.4 41.5,642.8 48.0,636.5 C54.5,630.2 63.0,623.4 69.0,620.0 C75.0,616.6 78.0,617.8 84.0,616.0 C90.0,614.2 99.0,611.7 105.0,609.0 C111.0,606.3 114.0,602.7 120.0,600.0 C126.0,597.3 136.0,595.2 141.0,593.0 C146.0,590.8 147.4,588.8 150.0,587.0 C152.6,585.2 150.9,588.3 156.5,582.0 C162.1,575.7 174.6,558.2 183.6,549.0 C192.6,539.8 203.2,532.2 210.7,526.7 C218.2,521.2 222.1,518.3 228.7,516.0 C235.2,513.7 245.4,513.4 250.0,513.0 C254.6,512.6 250.5,511.2 256.0,513.7 C261.5,516.2 275.5,524.3 283.0,528.0 C290.5,531.7 294.5,533.4 301.0,535.7 C307.5,538.0 314.5,537.5 322.0,541.7 C329.5,545.9 337.0,554.8 346.0,561.0 C355.0,567.2 369.5,575.5 376.0,579.0 C382.5,582.5 381.0,581.5 385.0,581.7 C389.0,581.9 395.8,580.5 400.0,580.0 C404.2,579.5 404.9,579.6 410.1,578.6 C415.3,577.6 424.6,575.5 431.2,573.9 C437.8,572.3 442.6,571.4 449.9,569.2 C457.2,567.0 468.2,562.4 474.9,560.6 C481.6,558.8 485.8,559.3 490.0,558.2 C494.2,557.1 496.6,555.3 500.0,554.2 C503.4,553.1 506.8,552.9 510.1,551.7 C513.5,550.5 516.3,548.9 520.1,547.2 C523.9,545.5 528.9,543.0 533.1,541.7 C537.3,540.4 541.5,540.4 545.2,539.6 C548.9,538.8 552.7,537.9 555.2,537.1 C557.7,536.3 557.4,535.6 560.2,534.6 C563.0,533.6 568.4,532.7 572.2,531.1 C576.1,529.5 580.3,526.4 583.3,525.1 C586.3,523.8 587.5,523.9 590.3,523.1 C593.1,522.3 596.4,521.2 600.3,520.1 C604.1,519.0 608.8,517.5 613.4,516.6 C618.0,515.7 623.5,515.2 628.0,514.5 C632.5,513.8 637.6,513.5 640.5,512.6 C643.4,511.7 640.9,511.0 645.5,509.1 C650.1,507.2 662.2,503.9 668.0,501.5 C673.8,499.1 674.8,495.8 680.2,494.6 C685.6,493.4 696.3,494.1 700.3,494.4 C704.3,494.7 698.9,493.6 704.0,496.5 C709.1,499.4 722.8,507.2 731.0,512.0 C739.2,516.8 746.8,520.7 753.0,525.0 C759.2,529.3 763.5,533.8 768.0,537.8 C772.5,541.8 774.6,545.1 780.0,549.0 C785.4,552.9 794.8,558.3 800.1,561.0 C805.5,563.7 808.8,563.5 812.1,565.0 C815.5,566.5 816.2,567.5 820.2,570.0 C824.2,572.5 831.2,577.7 836.2,580.1 C841.2,582.5 843.3,583.2 850.3,584.5 C857.3,585.8 872.3,587.6 878.3,588.1 C884.3,588.6 881.1,588.7 886.5,587.4 C891.9,586.1 901.3,583.0 910.4,580.4 C919.5,577.8 932.3,575.8 941.0,571.7 C949.7,567.6 955.4,563.5 962.6,555.7 C969.8,547.9 976.0,536.6 984.0,525.0 C992.0,513.4 1002.4,499.0 1010.4,486.0 C1018.4,473.0 1027.1,456.9 1032.0,447.0 C1036.9,437.1 1036.6,432.4 1040.0,426.4 C1043.4,420.4 1047.8,415.2 1052.5,410.8 C1057.2,406.4 1063.8,402.1 1068.0,400.0 C1072.2,397.9 1073.2,399.6 1077.4,398.3 C1081.6,397.0 1088.8,393.8 1093.0,392.0 C1097.2,390.2 1098.8,388.2 1102.4,387.4 C1106.1,386.6 1110.2,388.2 1114.9,387.4 C1119.6,386.6 1125.8,384.0 1130.5,382.7 C1135.2,381.4 1139.4,379.7 1143.0,379.6 C1146.6,379.5 1148.1,382.6 1152.3,382.1 C1156.5,381.6 1163.8,378.4 1167.9,376.5 C1172.1,374.6 1173.6,373.2 1177.2,370.9 C1180.8,368.6 1185.9,364.6 1189.7,362.5 C1193.5,360.4 1196.1,359.0 1200.0,358.4 C1203.9,357.8 1207.0,359.4 1213.0,359.0 C1219.0,358.6 1228.8,357.4 1235.8,356.0 C1242.8,354.6 1248.5,352.5 1254.8,350.4 C1261.1,348.3 1266.8,345.8 1273.7,343.6 C1280.7,341.4 1291.5,338.1 1296.5,337.0 C1301.5,335.9 1299.0,335.7 1304.0,337.0 C1309.0,338.3 1321.1,343.7 1326.8,344.7 C1332.5,345.7 1334.2,344.1 1338.0,342.8 C1341.8,341.5 1344.4,340.1 1349.5,337.0 C1354.6,333.9 1363.8,327.2 1368.5,323.9 C1373.2,320.6 1375.2,318.8 1378.0,317.0 C1380.8,315.2 1383.0,313.7 1385.0,313.0 C1387.0,312.3 1388.3,312.4 1390.0,312.6 C1391.7,312.8 1394.2,313.9 1395.0,314.2" fill="none" stroke-width="2.2"/></defs>
<clipPath id="cc0"><rect x="0" y="0" width="18" height="760"/></clipPath>
<g clip-path="url(#cc0)"><use href="#cma" stroke="#0000ff"/></g>
<clipPath id="cc1"><rect x="18" y="0" width="66" height="760"/></clipPath>
<g clip-path="url(#cc1)"><use href="#cma" stroke="#ff0000"/></g>
<clipPath id="cc2"><rect x="84" y="0" width="66" height="760"/></clipPath>
<g clip-path="url(#cc2)"><use href="#cma" stroke="#008000"/></g>
<clipPath id="cc3"><rect x="150" y="0" width="6.5" height="760"/></clipPath>
<g clip-path="url(#cc3)"><use href="#cma" stroke="#0000ff"/></g>
<clipPath id="cc4"><rect x="156.5" y="0" width="93.5" height="760"/></clipPath>
<g clip-path="url(#cc4)"><use href="#cma" stroke="#ff0000"/></g>
<clipPath id="cc5"><rect x="250" y="0" width="6" height="760"/></clipPath>
<g clip-path="url(#cc5)"><use href="#cma" stroke="#0000ff"/></g>
<clipPath id="cc6"><rect x="256" y="0" width="129" height="760"/></clipPath>
<g clip-path="url(#cc6)"><use href="#cma" stroke="#008000"/></g>
<clipPath id="cc7"><rect x="385" y="0" width="25" height="760"/></clipPath>
<g clip-path="url(#cc7)"><use href="#cma" stroke="#0000ff"/></g>
<clipPath id="cc8"><rect x="410" y="0" width="203.39999999999998" height="760"/></clipPath>
<g clip-path="url(#cc8)"><use href="#cma" stroke="#ff0000"/></g>
<clipPath id="cc9"><rect x="613.4" y="0" width="29.600000000000023" height="760"/></clipPath>
<g clip-path="url(#cc9)"><use href="#cma" stroke="#0000ff"/></g>
<clipPath id="cc10"><rect x="643" y="0" width="57" height="760"/></clipPath>
<g clip-path="url(#cc10)"><use href="#cma" stroke="#ff0000"/></g>
<clipPath id="cc11"><rect x="700" y="0" width="178" height="760"/></clipPath>
<g clip-path="url(#cc11)"><use href="#cma" stroke="#008000"/></g>
<clipPath id="cc12"><rect x="878" y="0" width="8.5" height="760"/></clipPath>
<g clip-path="url(#cc12)"><use href="#cma" stroke="#0000ff"/></g>
<clipPath id="cc13"><rect x="886.5" y="0" width="158.5" height="760"/></clipPath>
<g clip-path="url(#cc13)"><use href="#cma" stroke="#ff0000"/></g>
<clipPath id="cc14"><rect x="1045" y="0" width="59" height="760"/></clipPath>
<g clip-path="url(#cc14)"><use href="#cma" stroke="#0000ff"/></g>
<clipPath id="cc15"><rect x="1104" y="0" width="65.40000000000009" height="760"/></clipPath>
<g clip-path="url(#cc15)"><use href="#cma" stroke="#008000"/></g>
<clipPath id="cc16"><rect x="1169.4" y="0" width="12.599999999999909" height="760"/></clipPath>
<g clip-path="url(#cc16)"><use href="#cma" stroke="#0000ff"/></g>
<clipPath id="cc17"><rect x="1182" y="0" width="31" height="760"/></clipPath>
<g clip-path="url(#cc17)"><use href="#cma" stroke="#ff0000"/></g>
<clipPath id="cc18"><rect x="1213" y="0" width="41.799999999999955" height="760"/></clipPath>
<g clip-path="url(#cc18)"><use href="#cma" stroke="#0000ff"/></g>
<clipPath id="cc19"><rect x="1254.8" y="0" width="49.200000000000045" height="760"/></clipPath>
<g clip-path="url(#cc19)"><use href="#cma" stroke="#ff0000"/></g>
<clipPath id="cc20"><rect x="1304" y="0" width="34" height="760"/></clipPath>
<g clip-path="url(#cc20)"><use href="#cma" stroke="#008000"/></g>
<clipPath id="cc21"><rect x="1338" y="0" width="11.5" height="760"/></clipPath>
<g clip-path="url(#cc21)"><use href="#cma" stroke="#0000ff"/></g>
<clipPath id="cc22"><rect x="1349.5" y="0" width="50.5" height="760"/></clipPath>
<g clip-path="url(#cc22)"><use href="#cma" stroke="#ff0000"/></g>
</g>
<polygon points="1413.7,312.6 1444.7,287.1 1446.4,289.1 1450.2,280.5 1441.2,283.0 1442.9,285.0 1413.3,312.0" fill="#ff3b3b"/>
<polygon points="1450.4,280.8 1503.0,237.9 1504.7,239.9 1508.6,231.4 1499.5,233.8 1501.2,235.8 1450.0,280.2" fill="#ff3b3b"/>
<polygon points="1413.4,312.5 1440.9,345.2 1439.0,346.9 1447.6,350.6 1445.0,341.6 1443.0,343.3 1414.0,312.1" fill="#f5903e"/>
<polygon points="1447.4,350.8 1468.3,373.3 1466.5,375.1 1475.3,378.3 1472.1,369.5 1470.3,371.3 1447.8,350.4" fill="#f5903e"/>
<polygon points="1475.0,378.5 1498.9,405.8 1497.0,407.6 1505.7,411.1 1502.9,402.1 1500.9,403.9 1475.6,378.1" fill="#f5903e"/>
<rect x="1554.5" y="723" width="2" height="1" fill="#000"/>
<text x="1559" y="727.5" fill="#000">88.45</text>
<rect x="1554.5" y="676" width="2" height="1" fill="#000"/>
<text x="1559" y="680.9" fill="#000">90.25</text>
<rect x="1554.5" y="630" width="2" height="1" fill="#000"/>
<text x="1559" y="634.3" fill="#000">92.05</text>
<rect x="1554.5" y="583" width="2" height="1" fill="#000"/>
<text x="1559" y="587.7" fill="#000">93.85</text>
<rect x="1554.5" y="536" width="2" height="1" fill="#000"/>
<text x="1559" y="541.1" fill="#000">95.65</text>
<rect x="1554.5" y="490" width="2" height="1" fill="#000"/>
<text x="1559" y="494.5" fill="#000">97.45</text>
<rect x="1554.5" y="443" width="2" height="1" fill="#000"/>
<text x="1559" y="447.9" fill="#000">99.25</text>
<rect x="1554.5" y="397" width="2" height="1" fill="#000"/>
<text x="1559" y="401.3" fill="#000">101.05</text>
<rect x="1554.5" y="303" width="2" height="1" fill="#000"/>
<text x="1559" y="308.1" fill="#000">104.65</text>
<rect x="1554.5" y="257" width="2" height="1" fill="#000"/>
<text x="1559" y="261.5" fill="#000">106.45</text>
<rect x="1554.5" y="210" width="2" height="1" fill="#000"/>
<text x="1559" y="214.9" fill="#000">108.25</text>
<rect x="1554.5" y="164" width="2" height="1" fill="#000"/>
<text x="1559" y="168.3" fill="#000">110.05</text>
<rect x="1554.5" y="117" width="2" height="1" fill="#000"/>
<text x="1559" y="121.7" fill="#000">111.85</text>
<rect x="1554.5" y="70" width="2" height="1" fill="#000"/>
<text x="1559" y="75.1" fill="#000">113.65</text>
<rect x="1554.5" y="24" width="2" height="1" fill="#000"/>
<text x="1559" y="28.5" fill="#000">115.45</text>
<rect x="1555" y="58.4" width="38.8" height="11.9" fill="#ff0000"/>
<text x="1559.4" y="68.4" fill="#fff">113.96</text>
<rect x="1555" y="118.2" width="38.8" height="11.9" fill="#ff0000"/>
<text x="1559.4" y="128.2" fill="#fff">111.65</text>
<rect x="1555" y="176.7" width="38.8" height="11.9" fill="#ff0000"/>
<text x="1559.4" y="186.7" fill="#fff">109.39</text>
<rect x="1555" y="228.2" width="38.8" height="11.9" fill="#ff0000"/>
<text x="1559.4" y="238.2" fill="#fff">107.40</text>
<rect x="1555" y="275.8" width="38.8" height="11.9" fill="#ff0000"/>
<text x="1559.4" y="285.8" fill="#fff">105.56</text>
<rect x="1555" y="306.9" width="38.8" height="11.9" fill="#ff0000"/>
<text x="1559.4" y="316.9" fill="#fff">104.36</text>
<rect x="1555" y="324.2" width="38.8" height="11.9" fill="#000000"/>
<text x="1559.4" y="334.2" fill="#fff">103.64</text>
<rect x="1555" y="347.3" width="38.8" height="11.9" fill="#0000ff"/>
<text x="1559.4" y="357.3" fill="#fff">102.80</text>
<rect x="1555" y="371.9" width="38.8" height="11.9" fill="#ff0000"/>
<text x="1559.4" y="381.9" fill="#fff">101.85</text>
<rect x="1555" y="406.1" width="38.8" height="11.9" fill="#ff0000"/>
<text x="1559.4" y="416.1" fill="#fff">100.53</text>
<rect x="1555" y="430.7" width="33" height="11.9" fill="#ff0000"/>
<text x="1559.4" y="440.7" fill="#fff">99.58</text>
<rect x="1555" y="479.3" width="33" height="11.9" fill="#ff0000"/>
<text x="1559.4" y="489.3" fill="#fff">97.70</text>
<g clip-path="url(#cd)">
<path d="M3.10 821.0h1.9V827.0h-1.9ZM5.94 817.4h1.9V827.0h-1.9ZM8.77 813.1h1.9V827.0h-1.9ZM11.61 808.8h1.9V827.0h-1.9ZM14.45 805.4h1.9V827.0h-1.9ZM17.28 803.3h1.9V827.0h-1.9ZM20.12 804.6h1.9V827.0h-1.9ZM22.96 805.9h1.9V827.0h-1.9ZM25.79 807.2h1.9V827.0h-1.9ZM28.63 807.9h1.9V827.0h-1.9ZM31.47 807.7h1.9V827.0h-1.9ZM34.30 807.6h1.9V827.0h-1.9ZM37.14 807.4h1.9V827.0h-1.9ZM39.98 807.2h1.9V827.0h-1.9ZM42.81 807.0h1.9V827.0h-1.9ZM45.65 811.3h1.9V827.0h-1.9ZM48.49 815.5h1.9V827.0h-1.9ZM51.32 819.6h1.9V827.0h-1.9ZM54.16 821.6h1.9V827.0h-1.9ZM57.00 823.3h1.9V827.0h-1.9ZM59.83 825.7h1.9V827.0h-1.9ZM62.67 827.0h1.9V828.3h-1.9ZM65.51 827.0h1.9V830.9h-1.9ZM68.34 827.0h1.9V834.3h-1.9ZM71.18 827.0h1.9V837.6h-1.9ZM74.02 827.0h1.9V839.4h-1.9ZM76.86 827.0h1.9V841.3h-1.9ZM79.69 827.0h1.9V843.7h-1.9ZM82.53 827.0h1.9V846.5h-1.9ZM85.37 827.0h1.9V846.3h-1.9ZM88.20 827.0h1.9V845.5h-1.9ZM91.04 827.0h1.9V844.6h-1.9ZM93.88 827.0h1.9V843.7h-1.9ZM96.71 827.0h1.9V842.8h-1.9ZM99.55 827.0h1.9V841.8h-1.9ZM102.39 827.0h1.9V840.5h-1.9ZM105.22 827.0h1.9V837.6h-1.9ZM108.06 827.0h1.9V834.7h-1.9ZM110.90 827.0h1.9V832.0h-1.9ZM113.73 827.0h1.9V831.8h-1.9ZM116.57 827.0h1.9V831.7h-1.9ZM119.41 827.0h1.9V831.5h-1.9ZM122.24 827.0h1.9V831.3h-1.9ZM125.08 827.0h1.9V830.8h-1.9ZM127.92 827.0h1.9V830.2h-1.9ZM130.75 827.0h1.9V829.7h-1.9ZM133.59 827.0h1.9V829.2h-1.9ZM136.43 827.0h1.9V828.2h-1.9ZM142.10 823.6h1.9V827.0h-1.9ZM144.94 820.7h1.9V827.0h-1.9ZM147.77 818.1h1.9V827.0h-1.9ZM150.61 815.2h1.9V827.0h-1.9ZM153.45 810.9h1.9V827.0h-1.9ZM156.28 806.5h1.9V827.0h-1.9ZM159.12 802.1h1.9V827.0h-1.9ZM161.96 797.8h1.9V827.0h-1.9ZM164.79 794.2h1.9V827.0h-1.9ZM167.63 791.2h1.9V827.0h-1.9ZM170.47 788.9h1.9V827.0h-1.9ZM173.30 788.5h1.9V827.0h-1.9ZM176.14 788.0h1.9V827.0h-1.9ZM178.98 791.2h1.9V827.0h-1.9ZM181.81 794.7h1.9V827.0h-1.9ZM184.65 797.6h1.9V827.0h-1.9ZM187.49 800.2h1.9V827.0h-1.9ZM190.32 802.3h1.9V827.0h-1.9ZM193.16 803.1h1.9V827.0h-1.9ZM196.00 804.0h1.9V827.0h-1.9ZM198.83 804.9h1.9V827.0h-1.9ZM201.67 805.7h1.9V827.0h-1.9ZM204.51 808.2h1.9V827.0h-1.9ZM207.34 811.4h1.9V827.0h-1.9ZM210.18 813.7h1.9V827.0h-1.9ZM213.02 814.6h1.9V827.0h-1.9ZM215.86 815.4h1.9V827.0h-1.9ZM218.69 817.3h1.9V827.0h-1.9ZM221.53 822.1h1.9V827.0h-1.9ZM227.20 827.0h1.9V829.1h-1.9ZM230.04 827.0h1.9V831.2h-1.9ZM232.88 827.0h1.9V834.1h-1.9ZM235.71 827.0h1.9V837.4h-1.9ZM238.55 827.0h1.9V840.7h-1.9ZM241.39 827.0h1.9V843.4h-1.9ZM244.22 827.0h1.9V845.7h-1.9ZM247.06 827.0h1.9V848.0h-1.9ZM249.90 827.0h1.9V850.3h-1.9ZM252.73 827.0h1.9V853.1h-1.9ZM255.57 827.0h1.9V855.9h-1.9ZM258.41 827.0h1.9V858.8h-1.9ZM261.24 827.0h1.9V861.6h-1.9ZM264.08 827.0h1.9V863.3h-1.9ZM266.92 827.0h1.9V864.8h-1.9ZM269.75 827.0h1.9V866.4h-1.9ZM272.59 827.0h1.9V867.9h-1.9ZM275.43 827.0h1.9V868.9h-1.9ZM278.26 827.0h1.9V868.6h-1.9ZM281.10 827.0h1.9V868.3h-1.9ZM283.94 827.0h1.9V867.4h-1.9ZM286.77 827.0h1.9V863.5h-1.9ZM289.61 827.0h1.9V859.6h-1.9ZM292.45 827.0h1.9V855.7h-1.9ZM295.28 827.0h1.9V852.2h-1.9ZM298.12 827.0h1.9V849.6h-1.9ZM300.96 827.0h1.9V847.0h-1.9ZM303.79 827.0h1.9V844.8h-1.9ZM306.63 827.0h1.9V844.2h-1.9ZM309.47 827.0h1.9V843.6h-1.9ZM312.30 827.0h1.9V842.9h-1.9ZM315.14 827.0h1.9V842.3h-1.9ZM317.98 827.0h1.9V843.5h-1.9ZM320.81 827.0h1.9V846.1h-1.9ZM323.65 827.0h1.9V848.7h-1.9ZM326.49 827.0h1.9V851.3h-1.9ZM329.32 827.0h1.9V853.9h-1.9ZM332.16 827.0h1.9V855.6h-1.9ZM335.00 827.0h1.9V857.2h-1.9ZM337.83 827.0h1.9V858.8h-1.9ZM340.67 827.0h1.9V858.5h-1.9ZM343.51 827.0h1.9V858.0h-1.9ZM346.34 827.0h1.9V857.5h-1.9ZM349.18 827.0h1.9V857.0h-1.9ZM352.02 827.0h1.9V856.1h-1.9ZM354.86 827.0h1.9V855.2h-1.9ZM357.69 827.0h1.9V854.4h-1.9ZM360.53 827.0h1.9V853.5h-1.9ZM363.37 827.0h1.9V851.7h-1.9ZM366.20 827.0h1.9V848.7h-1.9ZM369.04 827.0h1.9V845.6h-1.9ZM371.88 827.0h1.9V840.6h-1.9ZM374.71 827.0h1.9V835.7h-1.9ZM377.55 827.0h1.9V830.7h-1.9ZM380.39 826.1h1.9V827.0h-1.9ZM383.22 822.2h1.9V827.0h-1.9ZM386.06 819.2h1.9V827.0h-1.9ZM388.90 816.6h1.9V827.0h-1.9ZM391.73 814.4h1.9V827.0h-1.9ZM394.57 812.4h1.9V827.0h-1.9ZM397.41 811.5h1.9V827.0h-1.9ZM400.24 810.8h1.9V827.0h-1.9ZM403.08 810.2h1.9V827.0h-1.9ZM405.92 809.5h1.9V827.0h-1.9ZM408.75 808.1h1.9V827.0h-1.9ZM411.59 806.6h1.9V827.0h-1.9ZM414.43 805.1h1.9V827.0h-1.9ZM417.26 805.7h1.9V827.0h-1.9ZM420.10 806.4h1.9V827.0h-1.9ZM422.94 807.2h1.9V827.0h-1.9ZM425.77 808.6h1.9V827.0h-1.9ZM428.61 810.3h1.9V827.0h-1.9ZM431.45 811.3h1.9V827.0h-1.9ZM434.28 811.4h1.9V827.0h-1.9ZM437.12 811.5h1.9V827.0h-1.9ZM439.96 811.7h1.9V827.0h-1.9ZM442.79 811.1h1.9V827.0h-1.9ZM445.63 810.1h1.9V827.0h-1.9ZM448.47 809.0h1.9V827.0h-1.9ZM451.30 808.4h1.9V827.0h-1.9ZM454.14 808.2h1.9V827.0h-1.9ZM456.98 807.9h1.9V827.0h-1.9ZM459.81 807.6h1.9V827.0h-1.9ZM462.65 807.3h1.9V827.0h-1.9ZM465.49 808.5h1.9V827.0h-1.9ZM468.32 809.7h1.9V827.0h-1.9ZM471.16 811.0h1.9V827.0h-1.9ZM474.00 813.0h1.9V827.0h-1.9ZM476.83 815.1h1.9V827.0h-1.9ZM479.67 817.3h1.9V827.0h-1.9ZM482.51 817.9h1.9V827.0h-1.9ZM485.34 818.0h1.9V827.0h-1.9ZM488.18 818.1h1.9V827.0h-1.9ZM491.02 818.2h1.9V827.0h-1.9ZM493.86 818.1h1.9V827.0h-1.9ZM496.69 818.1h1.9V827.0h-1.9ZM499.53 818.0h1.9V827.0h-1.9ZM502.37 817.9h1.9V827.0h-1.9ZM505.20 817.8h1.9V827.0h-1.9ZM508.04 817.6h1.9V827.0h-1.9ZM510.88 817.2h1.9V827.0h-1.9ZM513.71 816.8h1.9V827.0h-1.9ZM516.55 816.4h1.9V827.0h-1.9ZM519.39 816.0h1.9V827.0h-1.9ZM522.22 816.1h1.9V827.0h-1.9ZM525.06 816.3h1.9V827.0h-1.9ZM527.90 816.4h1.9V827.0h-1.9ZM530.73 816.6h1.9V827.0h-1.9ZM533.57 817.2h1.9V827.0h-1.9ZM536.41 819.1h1.9V827.0h-1.9ZM539.24 821.0h1.9V827.0h-1.9ZM542.08 822.7h1.9V827.0h-1.9ZM544.92 823.3h1.9V827.0h-1.9ZM547.75 823.9h1.9V827.0h-1.9ZM550.59 824.3h1.9V827.0h-1.9ZM553.43 823.3h1.9V827.0h-1.9ZM556.26 822.2h1.9V827.0h-1.9ZM559.10 821.1h1.9V827.0h-1.9ZM561.94 820.6h1.9V827.0h-1.9ZM564.77 820.1h1.9V827.0h-1.9ZM567.61 819.6h1.9V827.0h-1.9ZM570.45 818.8h1.9V827.0h-1.9ZM573.28 818.0h1.9V827.0h-1.9ZM576.12 817.1h1.9V827.0h-1.9ZM578.96 816.2h1.9V827.0h-1.9ZM581.79 816.0h1.9V827.0h-1.9ZM584.63 817.3h1.9V827.0h-1.9ZM587.47 818.6h1.9V827.0h-1.9ZM590.30 819.8h1.9V827.0h-1.9ZM593.14 820.6h1.9V827.0h-1.9ZM595.98 821.5h1.9V827.0h-1.9ZM598.81 822.2h1.9V827.0h-1.9ZM601.65 822.6h1.9V827.0h-1.9ZM604.49 823.0h1.9V827.0h-1.9ZM607.32 823.4h1.9V827.0h-1.9ZM610.16 824.9h1.9V827.0h-1.9ZM613.00 826.4h1.9V827.0h-1.9ZM615.83 827.0h1.9V827.6h-1.9ZM618.67 827.0h1.9V828.6h-1.9ZM621.51 827.0h1.9V829.0h-1.9ZM624.34 827.0h1.9V828.5h-1.9ZM627.18 827.0h1.9V828.0h-1.9ZM632.86 825.7h1.9V827.0h-1.9ZM635.69 824.2h1.9V827.0h-1.9ZM638.53 822.6h1.9V827.0h-1.9ZM641.37 823.3h1.9V827.0h-1.9ZM647.04 823.5h1.9V827.0h-1.9ZM649.88 819.7h1.9V827.0h-1.9ZM652.71 817.4h1.9V827.0h-1.9ZM655.55 816.1h1.9V827.0h-1.9ZM658.39 815.0h1.9V827.0h-1.9ZM661.22 814.2h1.9V827.0h-1.9ZM664.06 813.4h1.9V827.0h-1.9ZM666.90 813.9h1.9V827.0h-1.9ZM669.73 814.3h1.9V827.0h-1.9ZM672.57 815.5h1.9V827.0h-1.9ZM675.41 816.9h1.9V827.0h-1.9ZM678.24 819.4h1.9V827.0h-1.9ZM681.08 823.3h1.9V827.0h-1.9ZM683.92 825.3h1.9V827.0h-1.9ZM689.59 827.0h1.9V828.4h-1.9ZM692.43 827.0h1.9V831.5h-1.9ZM695.26 827.0h1.9V835.3h-1.9ZM698.10 827.0h1.9V839.2h-1.9ZM700.94 827.0h1.9V843.1h-1.9ZM703.77 827.0h1.9V848.8h-1.9ZM706.61 827.0h1.9V853.7h-1.9ZM709.45 827.0h1.9V856.5h-1.9ZM712.28 827.0h1.9V859.4h-1.9ZM715.12 827.0h1.9V862.3h-1.9ZM717.96 827.0h1.9V862.7h-1.9ZM720.79 827.0h1.9V862.7h-1.9ZM723.63 827.0h1.9V862.3h-1.9ZM726.47 827.0h1.9V860.1h-1.9ZM729.30 827.0h1.9V857.9h-1.9ZM732.14 827.0h1.9V856.9h-1.9ZM734.98 827.0h1.9V856.0h-1.9ZM737.81 827.0h1.9V855.2h-1.9ZM740.65 827.0h1.9V854.4h-1.9ZM743.49 827.0h1.9V853.7h-1.9ZM746.32 827.0h1.9V853.5h-1.9ZM749.16 827.0h1.9V853.9h-1.9ZM752.00 827.0h1.9V854.3h-1.9ZM754.83 827.0h1.9V855.3h-1.9ZM757.67 827.0h1.9V857.2h-1.9ZM760.51 827.0h1.9V859.0h-1.9ZM763.34 827.0h1.9V860.2h-1.9ZM766.18 827.0h1.9V861.3h-1.9ZM769.02 827.0h1.9V860.5h-1.9ZM771.86 827.0h1.9V859.1h-1.9ZM774.69 827.0h1.9V857.8h-1.9ZM777.53 827.0h1.9V856.6h-1.9ZM780.37 827.0h1.9V855.4h-1.9ZM783.20 827.0h1.9V853.9h-1.9ZM786.04 827.0h1.9V851.9h-1.9ZM788.88 827.0h1.9V849.9h-1.9ZM791.71 827.0h1.9V847.7h-1.9ZM794.55 827.0h1.9V844.9h-1.9ZM797.39 827.0h1.9V842.0h-1.9ZM800.22 827.0h1.9V839.2h-1.9ZM803.06 827.0h1.9V836.6h-1.9ZM805.90 827.0h1.9V834.0h-1.9ZM808.73 827.0h1.9V833.8h-1.9ZM811.57 827.0h1.9V834.1h-1.9ZM814.41 827.0h1.9V834.8h-1.9ZM817.24 827.0h1.9V836.0h-1.9ZM820.08 827.0h1.9V837.3h-1.9ZM822.92 827.0h1.9V838.2h-1.9ZM825.75 827.0h1.9V838.7h-1.9ZM828.59 827.0h1.9V839.3h-1.9ZM831.43 827.0h1.9V838.8h-1.9ZM834.26 827.0h1.9V836.4h-1.9ZM837.10 827.0h1.9V834.0h-1.9ZM839.94 827.0h1.9V831.2h-1.9ZM842.77 827.0h1.9V828.4h-1.9ZM848.45 825.2h1.9V827.0h-1.9ZM851.28 823.9h1.9V827.0h-1.9ZM854.12 822.7h1.9V827.0h-1.9ZM856.96 821.7h1.9V827.0h-1.9ZM859.79 821.5h1.9V827.0h-1.9ZM862.63 821.3h1.9V827.0h-1.9ZM865.47 821.1h1.9V827.0h-1.9ZM868.30 820.4h1.9V827.0h-1.9ZM871.14 819.6h1.9V827.0h-1.9ZM873.98 818.9h1.9V827.0h-1.9ZM876.81 817.4h1.9V827.0h-1.9ZM879.65 815.8h1.9V827.0h-1.9ZM882.49 814.8h1.9V827.0h-1.9ZM885.32 814.3h1.9V827.0h-1.9ZM888.16 813.7h1.9V827.0h-1.9ZM891.00 813.1h1.9V827.0h-1.9ZM893.83 811.6h1.9V827.0h-1.9ZM896.67 809.7h1.9V827.0h-1.9ZM899.51 807.9h1.9V827.0h-1.9ZM902.34 806.2h1.9V827.0h-1.9ZM905.18 804.7h1.9V827.0h-1.9ZM908.02 803.1h1.9V827.0h-1.9ZM910.86 803.0h1.9V827.0h-1.9ZM913.69 803.9h1.9V827.0h-1.9ZM916.53 804.7h1.9V827.0h-1.9ZM919.37 805.5h1.9V827.0h-1.9ZM922.20 806.2h1.9V827.0h-1.9ZM925.04 806.9h1.9V827.0h-1.9ZM927.88 807.6h1.9V827.0h-1.9ZM930.71 808.3h1.9V827.0h-1.9ZM933.55 809.0h1.9V827.0h-1.9ZM936.39 808.7h1.9V827.0h-1.9ZM939.22 806.4h1.9V827.0h-1.9ZM942.06 804.1h1.9V827.0h-1.9ZM944.90 802.1h1.9V827.0h-1.9ZM947.73 800.7h1.9V827.0h-1.9ZM950.57 799.3h1.9V827.0h-1.9ZM953.41 797.4h1.9V827.0h-1.9ZM956.24 793.5h1.9V827.0h-1.9ZM959.08 789.6h1.9V827.0h-1.9ZM961.92 785.6h1.9V827.0h-1.9ZM964.75 781.4h1.9V827.0h-1.9ZM967.59 777.1h1.9V827.0h-1.9ZM970.43 777.7h1.9V827.0h-1.9ZM973.26 779.6h1.9V827.0h-1.9ZM976.10 780.1h1.9V827.0h-1.9ZM978.94 779.0h1.9V827.0h-1.9ZM981.77 777.9h1.9V827.0h-1.9ZM984.61 776.6h1.9V827.0h-1.9ZM987.45 774.8h1.9V827.0h-1.9ZM990.28 772.8h1.9V827.0h-1.9ZM993.12 768.3h1.9V827.0h-1.9ZM995.96 768.3h1.9V827.0h-1.9ZM998.79 770.7h1.9V827.0h-1.9ZM1001.63 771.2h1.9V827.0h-1.9ZM1004.47 774.3h1.9V827.0h-1.9ZM1007.30 773.8h1.9V827.0h-1.9ZM1010.14 771.2h1.9V827.0h-1.9ZM1012.98 769.0h1.9V827.0h-1.9ZM1015.81 769.0h1.9V827.0h-1.9ZM1018.65 768.4h1.9V827.0h-1.9ZM1021.49 762.9h1.9V827.0h-1.9ZM1024.32 760.6h1.9V827.0h-1.9ZM1027.16 757.9h1.9V827.0h-1.9ZM1030.00 756.3h1.9V827.0h-1.9ZM1032.83 757.9h1.9V827.0h-1.9ZM1035.67 763.0h1.9V827.0h-1.9ZM1038.51 765.5h1.9V827.0h-1.9ZM1041.34 775.9h1.9V827.0h-1.9ZM1044.18 787.1h1.9V827.0h-1.9ZM1047.02 795.8h1.9V827.0h-1.9ZM1049.86 805.9h1.9V827.0h-1.9ZM1052.69 813.6h1.9V827.0h-1.9ZM1055.53 819.1h1.9V827.0h-1.9ZM1058.37 825.6h1.9V827.0h-1.9ZM1061.20 827.0h1.9V832.1h-1.9ZM1064.04 827.0h1.9V835.7h-1.9ZM1066.88 827.0h1.9V840.6h-1.9ZM1069.71 827.0h1.9V846.9h-1.9ZM1072.55 827.0h1.9V849.8h-1.9ZM1075.39 827.0h1.9V852.4h-1.9ZM1078.22 827.0h1.9V851.6h-1.9ZM1081.06 827.0h1.9V850.8h-1.9ZM1083.90 827.0h1.9V848.3h-1.9ZM1086.73 827.0h1.9V845.0h-1.9ZM1089.57 827.0h1.9V843.0h-1.9ZM1092.41 827.0h1.9V843.0h-1.9ZM1095.24 827.0h1.9V843.0h-1.9ZM1098.08 827.0h1.9V843.5h-1.9ZM1100.92 827.0h1.9V845.3h-1.9ZM1103.75 827.0h1.9V847.0h-1.9ZM1106.59 827.0h1.9V848.8h-1.9ZM1109.43 827.0h1.9V850.5h-1.9ZM1112.26 827.0h1.9V852.3h-1.9ZM1115.10 827.0h1.9V849.9h-1.9ZM1117.94 827.0h1.9V847.2h-1.9ZM1120.77 827.0h1.9V844.5h-1.9ZM1123.61 827.0h1.9V842.6h-1.9ZM1126.45 827.0h1.9V840.8h-1.9ZM1129.28 827.0h1.9V839.0h-1.9ZM1132.12 827.0h1.9V838.6h-1.9ZM1134.96 827.0h1.9V838.6h-1.9ZM1137.79 827.0h1.9V838.6h-1.9ZM1140.63 827.0h1.9V840.1h-1.9ZM1143.47 827.0h1.9V842.4h-1.9ZM1146.30 827.0h1.9V843.6h-1.9ZM1149.14 827.0h1.9V842.2h-1.9ZM1151.98 827.0h1.9V840.7h-1.9ZM1154.81 827.0h1.9V837.9h-1.9ZM1157.65 827.0h1.9V835.0h-1.9ZM1160.49 827.0h1.9V830.9h-1.9ZM1166.16 823.3h1.9V827.0h-1.9ZM1169.00 820.1h1.9V827.0h-1.9ZM1171.83 817.3h1.9V827.0h-1.9ZM1174.67 814.6h1.9V827.0h-1.9ZM1177.51 812.2h1.9V827.0h-1.9ZM1180.34 809.9h1.9V827.0h-1.9ZM1183.18 807.6h1.9V827.0h-1.9ZM1186.02 808.6h1.9V827.0h-1.9ZM1188.86 810.1h1.9V827.0h-1.9ZM1191.69 813.6h1.9V827.0h-1.9ZM1194.53 817.4h1.9V827.0h-1.9ZM1197.37 820.3h1.9V827.0h-1.9ZM1200.20 822.7h1.9V827.0h-1.9ZM1203.04 825.8h1.9V827.0h-1.9ZM1205.88 827.0h1.9V830.7h-1.9ZM1208.71 827.0h1.9V833.6h-1.9ZM1211.55 827.0h1.9V835.7h-1.9ZM1214.39 827.0h1.9V837.8h-1.9ZM1217.22 827.0h1.9V837.2h-1.9ZM1220.06 827.0h1.9V835.1h-1.9ZM1222.90 827.0h1.9V832.9h-1.9ZM1225.73 827.0h1.9V831.3h-1.9ZM1228.57 827.0h1.9V830.1h-1.9ZM1231.41 827.0h1.9V828.9h-1.9ZM1234.24 827.0h1.9V828.5h-1.9ZM1237.08 827.0h1.9V829.0h-1.9ZM1239.92 827.0h1.9V829.5h-1.9ZM1242.75 827.0h1.9V828.8h-1.9ZM1245.59 826.4h1.9V827.0h-1.9ZM1248.43 823.9h1.9V827.0h-1.9ZM1251.26 821.5h1.9V827.0h-1.9ZM1254.10 819.1h1.9V827.0h-1.9ZM1256.94 816.7h1.9V827.0h-1.9ZM1259.77 817.1h1.9V827.0h-1.9ZM1262.61 817.4h1.9V827.0h-1.9ZM1265.45 817.8h1.9V827.0h-1.9ZM1268.28 818.5h1.9V827.0h-1.9ZM1271.12 819.2h1.9V827.0h-1.9ZM1273.96 819.9h1.9V827.0h-1.9ZM1276.79 819.4h1.9V827.0h-1.9ZM1279.63 818.7h1.9V827.0h-1.9ZM1282.47 818.0h1.9V827.0h-1.9ZM1285.30 819.1h1.9V827.0h-1.9ZM1288.14 820.9h1.9V827.0h-1.9ZM1290.98 822.7h1.9V827.0h-1.9ZM1293.81 824.5h1.9V827.0h-1.9ZM1296.65 826.2h1.9V827.0h-1.9ZM1299.49 827.0h1.9V828.0h-1.9ZM1302.32 827.0h1.9V831.2h-1.9ZM1305.16 827.0h1.9V835.5h-1.9ZM1308.00 827.0h1.9V839.4h-1.9ZM1310.83 827.0h1.9V842.2h-1.9ZM1313.67 827.0h1.9V845.1h-1.9ZM1316.51 827.0h1.9V847.4h-1.9ZM1319.34 827.0h1.9V849.7h-1.9ZM1322.18 827.0h1.9V848.8h-1.9ZM1325.02 827.0h1.9V846.0h-1.9ZM1327.86 827.0h1.9V843.1h-1.9ZM1330.69 827.0h1.9V839.0h-1.9ZM1333.53 827.0h1.9V833.8h-1.9ZM1336.37 827.0h1.9V828.7h-1.9ZM1339.20 823.8h1.9V827.0h-1.9ZM1342.04 819.9h1.9V827.0h-1.9ZM1344.88 816.5h1.9V827.0h-1.9ZM1347.71 813.6h1.9V827.0h-1.9ZM1350.55 811.3h1.9V827.0h-1.9ZM1353.39 808.9h1.9V827.0h-1.9ZM1356.22 806.0h1.9V827.0h-1.9ZM1359.06 801.4h1.9V827.0h-1.9ZM1361.90 796.8h1.9V827.0h-1.9ZM1364.73 793.6h1.9V827.0h-1.9ZM1367.57 794.8h1.9V827.0h-1.9ZM1370.41 796.0h1.9V827.0h-1.9ZM1373.24 797.4h1.9V827.0h-1.9ZM1376.08 800.4h1.9V827.0h-1.9ZM1378.92 803.5h1.9V827.0h-1.9ZM1381.75 806.7h1.9V827.0h-1.9ZM1384.59 812.7h1.9V827.0h-1.9ZM1387.43 818.5h1.9V827.0h-1.9ZM1390.26 824.2h1.9V827.0h-1.9ZM1393.10 827.0h1.9V830.1h-1.9Z" fill="#8c8c8c"/>
<path d="M4.4,817.8 C5.9,817.4 9.8,816.9 13.1,815.6 C16.4,814.3 20.1,811.5 24.1,810.0 C28.1,808.5 33.2,806.7 37.2,806.4 C41.2,806.1 44.5,806.8 48.1,808.0 C51.8,809.2 55.5,810.7 59.1,813.4 C62.8,816.1 66.4,820.6 70.0,824.4 C73.6,828.2 76.9,833.1 80.9,836.4 C84.9,839.7 90.1,842.9 94.1,844.0 C98.1,845.1 101.0,844.3 105.0,843.0 C109.0,841.7 113.7,838.4 118.1,836.4 C122.5,834.4 126.9,832.5 131.3,831.0 C135.7,829.5 140.0,829.9 144.4,827.7 C148.8,825.5 152.8,822.4 157.5,817.8 C162.2,813.2 168.1,804.8 172.8,800.3 C177.6,795.8 182.0,791.9 186.0,791.0 C190.0,790.1 192.5,792.1 196.9,794.8 C201.3,797.5 207.8,803.7 212.2,807.0 C216.6,810.3 219.1,811.0 223.1,814.5 C227.1,818.0 231.6,823.5 236.3,827.7 C241.1,831.9 246.5,835.3 251.6,839.7 C256.7,844.1 261.4,849.5 266.9,854.0 C272.4,858.5 278.6,866.5 284.4,867.0 C290.2,867.5 295.7,861.0 301.9,857.2 C308.1,853.4 315.4,844.7 321.6,844.0 C327.8,843.3 334.4,850.6 339.1,852.8 C343.8,855.0 347.4,856.4 350.0,857.2 C352.6,858.0 350.8,859.1 354.4,857.6 C358.0,856.1 366.1,853.2 371.9,848.4 C377.7,843.6 383.6,834.6 389.4,828.8 C395.2,823.0 401.1,817.0 406.9,813.4 C412.7,809.8 419.3,808.1 424.4,807.3 C429.5,806.5 432.4,808.2 437.5,808.6 C442.6,809.0 449.2,809.4 455.0,809.5 C460.8,809.6 466.7,808.1 472.5,809.1 C478.3,810.1 484.9,814.1 490.0,815.6 C495.1,817.1 497.3,818.0 503.1,818.2 C508.9,818.4 517.7,816.5 525.0,816.7 C532.3,816.9 541.1,818.7 546.9,819.6 C552.7,820.5 554.2,822.5 560.0,822.2 C565.8,821.9 574.6,818.2 581.9,817.8 C589.2,817.4 596.1,818.5 603.8,820.0 C611.4,821.5 622.0,825.8 627.8,827.0 C633.6,828.2 634.0,827.8 638.8,827.0 C643.5,826.2 650.1,824.3 656.3,822.2 C662.5,820.1 670.2,814.9 676.0,814.5 C681.8,814.1 687.3,817.8 691.3,820.0 C695.3,822.2 696.7,824.4 700.0,828.0 C703.3,831.6 706.9,836.9 710.9,841.9 C714.9,846.9 719.7,855.6 724.1,858.3 C728.5,861.0 732.5,859.0 737.2,858.3 C741.9,857.6 746.7,853.8 752.5,853.9 C758.3,854.0 766.4,858.5 772.2,859.0 C778.0,859.5 782.0,859.5 787.5,857.2 C793.0,854.9 799.5,848.8 805.0,845.2 C810.5,841.6 815.2,837.1 820.3,835.8 C825.4,834.5 830.9,837.8 835.6,837.5 C840.4,837.2 844.4,836.2 848.8,834.2 C853.2,832.2 856.8,827.9 861.9,825.5 C867.0,823.1 873.6,821.4 879.4,819.6 C885.2,817.8 890.7,816.8 896.9,814.5 C903.1,812.2 910.8,807.1 916.6,805.8 C922.4,804.4 927.5,806.1 931.9,806.4 C936.3,806.6 938.4,808.1 942.8,807.3 C947.2,806.5 952.6,805.5 958.1,801.4 C963.6,797.3 969.4,787.1 975.6,782.8 C981.8,778.5 989.5,777.6 995.3,775.8 C1001.1,774.0 1005.9,773.1 1010.6,771.9 C1015.4,770.7 1019.4,770.2 1023.8,768.6 C1028.2,767.0 1032.4,761.1 1036.9,762.0 C1041.5,762.9 1047.1,767.6 1051.1,774.0 C1055.1,780.4 1057.4,791.2 1060.9,800.3 C1064.4,809.4 1068.6,821.6 1071.9,828.8 C1075.2,835.9 1077.3,839.7 1080.6,843.0 C1083.9,846.3 1087.9,848.0 1091.6,848.4 C1095.2,848.8 1097.4,845.2 1102.5,845.2 C1107.6,845.2 1115.6,849.1 1122.2,848.4 C1128.8,847.7 1134.6,842.8 1141.9,840.8 C1149.2,838.8 1160.1,838.9 1165.9,836.4 C1171.7,833.9 1172.5,829.5 1176.9,825.5 C1181.3,821.5 1187.8,814.1 1192.2,812.3 C1196.6,810.5 1199.1,811.8 1203.1,814.5 C1207.1,817.2 1211.5,825.5 1216.3,828.8 C1221.0,832.0 1225.0,834.7 1231.6,834.2 C1238.1,833.7 1247.6,828.0 1255.6,825.5 C1263.6,823.0 1272.0,819.3 1279.7,818.9 C1287.4,818.5 1296.1,820.9 1301.6,823.3 C1307.1,825.7 1307.8,829.5 1312.5,833.1 C1317.2,836.8 1324.9,845.0 1330.0,845.2 C1335.1,845.4 1338.7,839.1 1343.1,834.2 C1347.5,829.3 1351.2,821.5 1356.3,815.6 C1361.4,809.7 1369.4,801.9 1373.8,799.0 C1378.2,796.1 1379.0,796.4 1382.5,798.3 C1386.0,800.2 1392.6,808.2 1394.6,810.2" fill="none" stroke="#ff0000" stroke-width="1" stroke-dasharray="2,2"/>
</g>
<text x="6" y="761.5" fill="#000">MACD(12,26,9) -0.148 0.719</text>
<rect x="1555" y="826.5" width="2" height="1" fill="#000"/>
<text x="1556.5" y="761" fill="#000">3.357</text>
<text x="1556.5" y="831" fill="#000">0.00</text>
<text x="1557" y="874" fill="#000">-2.116</text>
<rect x="3.1" y="877" width="1" height="2.5" fill="#000"/>
<text x="3.6" y="889.5" fill="#000">18 Oct 2015</text>
<rect x="93.9" y="877" width="1" height="2.5" fill="#000"/>
<text x="94.4" y="889.5" fill="#000">29 May 2016</text>
<rect x="184.8" y="877" width="1" height="2.5" fill="#000"/>
<text x="185.3" y="889.5" fill="#000">22 Jan 2017</text>
<rect x="275.6" y="877" width="1" height="2.5" fill="#000"/>
<text x="276.1" y="889.5" fill="#000">3 Sep 2017</text>
<rect x="366.5" y="877" width="1" height="2.5" fill="#000"/>
<text x="367.0" y="889.5" fill="#000">15 Apr 2018</text>
<rect x="457.4" y="877" width="1" height="2.5" fill="#000"/>
<text x="457.9" y="889.5" fill="#000">25 Nov 2018</text>
<rect x="548.2" y="877" width="1" height="2.5" fill="#000"/>
<text x="548.7" y="889.5" fill="#000">7 Jul 2019</text>
<rect x="639.0" y="877" width="1" height="2.5" fill="#000"/>
<text x="639.5" y="889.5" fill="#000">16 Feb 2020</text>
<rect x="729.9" y="877" width="1" height="2.5" fill="#000"/>
<text x="730.4" y="889.5" fill="#000">27 Sep 2020</text>
<rect x="820.8" y="877" width="1" height="2.5" fill="#000"/>
<text x="821.2" y="889.5" fill="#000">9 May 2021</text>
<rect x="911.6" y="877" width="1" height="2.5" fill="#000"/>
<text x="912.1" y="889.5" fill="#000">19 Dec 2021</text>
<rect x="1002.4" y="877" width="1" height="2.5" fill="#000"/>
<text x="1002.9" y="889.5" fill="#000">31 Jul 2022</text>
<rect x="1093.3" y="877" width="1" height="2.5" fill="#000"/>
<text x="1093.8" y="889.5" fill="#000">12 Mar 2023</text>
<rect x="1184.1" y="877" width="1" height="2.5" fill="#000"/>
<text x="1184.6" y="889.5" fill="#000">22 Oct 2023</text>
<rect x="1275.0" y="877" width="1" height="2.5" fill="#000"/>
<text x="1275.5" y="889.5" fill="#000">2 Jun 2024</text>
<rect x="1365.8" y="877" width="1" height="2.5" fill="#000"/>
<text x="1366.3" y="889.5" fill="#000">12 Jan 2025</text>
<text x="6.5" y="15.5" fill="#000">Dollar,Weekly&#160; 103.72 104.29 103.46 103.64</text>
</svg></body></html>
